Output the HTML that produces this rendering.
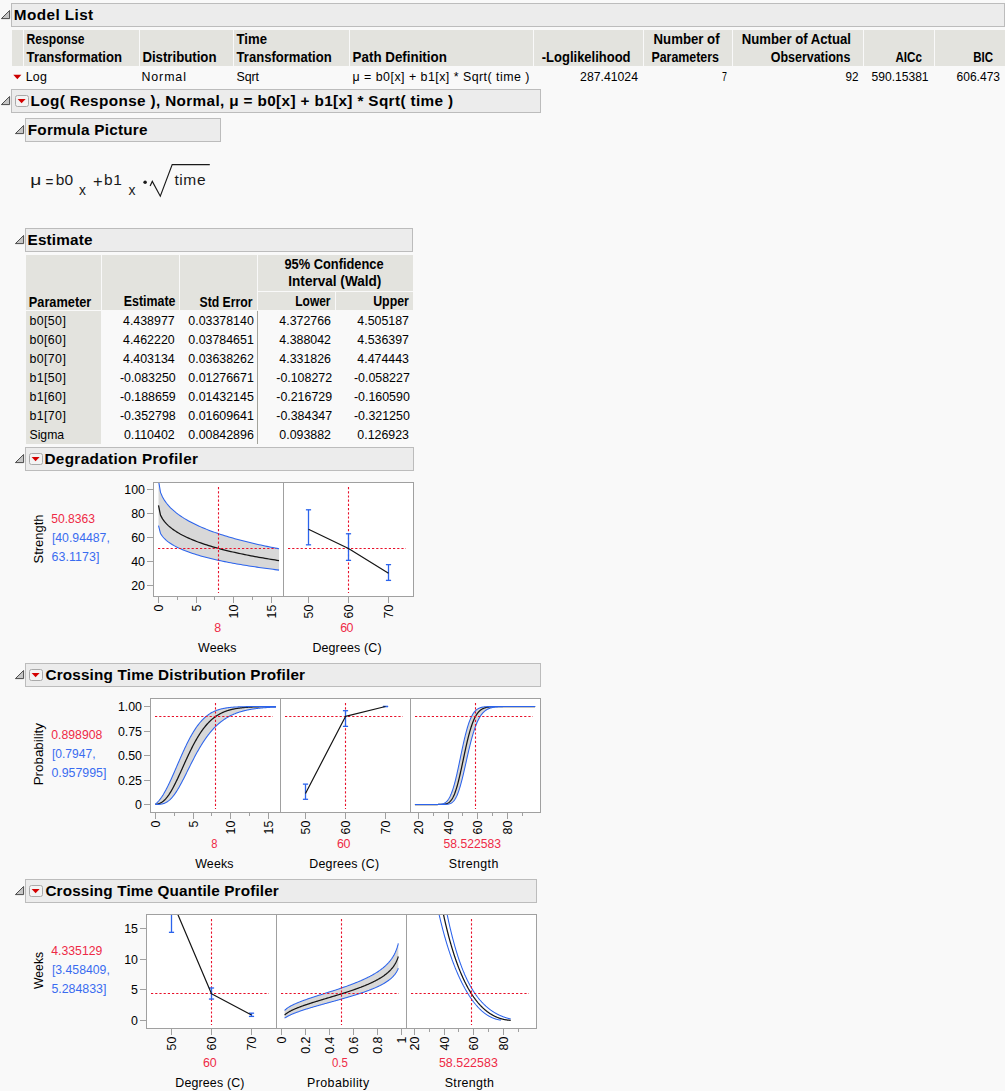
<!DOCTYPE html>
<html><head><meta charset="utf-8"><title>Degradation Model List</title>
<style>
html,body{margin:0;padding:0;background:#f9f9f9;}
body{width:1005px;height:1091px;overflow:hidden;}
svg{display:block;font-family:'Liberation Sans', Arial, sans-serif;}
</style></head><body>
<svg width="1005" height="1091" viewBox="0 0 1005 1091">
<rect x="0" y="0" width="1005" height="1091" fill="#f9f9f9"/>
<rect x="11.5" y="3.5" width="993" height="23" fill="#ececec" stroke="#bcbcbc" stroke-width="1"/>
<path d="M1.4 18.6 L9.6 10.5 L9.6 18.6 Z" fill="#c6c6c6" stroke="#4a4a4a" stroke-width="1" stroke-linejoin="round"/>
<text x="13.8" y="20.2" font-size="15.3" font-weight="bold" fill="#000" textLength="79.39" lengthAdjust="spacing">Model List</text>
<rect x="12" y="30" width="11" height="36" fill="#e3e3de"/>
<rect x="24" y="30" width="115" height="36" fill="#e3e3de"/>
<rect x="140" y="30" width="93" height="36" fill="#e3e3de"/>
<rect x="234" y="30" width="115" height="36" fill="#e3e3de"/>
<rect x="350" y="30" width="183" height="36" fill="#e3e3de"/>
<rect x="534" y="30" width="109" height="36" fill="#e3e3de"/>
<rect x="644" y="30" width="88" height="36" fill="#e3e3de"/>
<rect x="733" y="30" width="130" height="36" fill="#e3e3de"/>
<rect x="864" y="30" width="70" height="36" fill="#e3e3de"/>
<rect x="935" y="30" width="70" height="36" fill="#e3e3de"/>
<text x="26.6" y="44" font-size="14" font-weight="bold" fill="#000" textLength="57.91" lengthAdjust="spacingAndGlyphs">Response</text>
<text x="26.6" y="62" font-size="14" font-weight="bold" fill="#000" textLength="95.42" lengthAdjust="spacingAndGlyphs">Transformation</text>
<text x="142.4" y="62" font-size="14" font-weight="bold" fill="#000" textLength="74.12" lengthAdjust="spacingAndGlyphs">Distribution</text>
<text x="236.6" y="44" font-size="14" font-weight="bold" fill="#000" textLength="30.40" lengthAdjust="spacingAndGlyphs">Time</text>
<text x="236.6" y="62" font-size="14" font-weight="bold" fill="#000" textLength="95.01" lengthAdjust="spacingAndGlyphs">Transformation</text>
<text x="352.6" y="62" font-size="14" font-weight="bold" fill="#000" textLength="94.23" lengthAdjust="spacingAndGlyphs">Path Definition</text>
<text x="541.8" y="62" font-size="14" font-weight="bold" fill="#000" textLength="88.71" lengthAdjust="spacingAndGlyphs">-Loglikelihood</text>
<text x="653.6" y="44" font-size="14" font-weight="bold" fill="#000" textLength="65.98" lengthAdjust="spacingAndGlyphs">Number of</text>
<text x="651.4" y="62" font-size="14" font-weight="bold" fill="#000" textLength="67.61" lengthAdjust="spacingAndGlyphs">Parameters</text>
<text x="741.8" y="44" font-size="14" font-weight="bold" fill="#000" textLength="109.23" lengthAdjust="spacingAndGlyphs">Number of Actual</text>
<text x="770.7" y="62" font-size="14" font-weight="bold" fill="#000" textLength="79.71" lengthAdjust="spacingAndGlyphs">Observations</text>
<text x="895.5" y="62" font-size="14" font-weight="bold" fill="#000" textLength="26.42" lengthAdjust="spacingAndGlyphs">AICc</text>
<text x="973.3" y="62" font-size="14" font-weight="bold" fill="#000" textLength="19.79" lengthAdjust="spacingAndGlyphs">BIC</text>
<path d="M13.3 74.7 L21.4 74.7 L17.35 79.2 Z" fill="#cc0000"/>
<text x="25.8" y="81" font-size="12.4" fill="#000000" textLength="20.99" lengthAdjust="spacing">Log</text>
<text x="141.4" y="81" font-size="12.4" fill="#000000" textLength="44.55" lengthAdjust="spacing">Normal</text>
<text x="236.6" y="81" font-size="12.4" fill="#000000" textLength="22.44" lengthAdjust="spacing">Sqrt</text>
<text x="352.6" y="81" font-size="12.4" fill="#000000" textLength="176.83" lengthAdjust="spacing">μ = b0[x] + b1[x] * Sqrt( time )</text>
<text x="580.1" y="81" font-size="12.4" fill="#000000" textLength="57.89" lengthAdjust="spacingAndGlyphs">287.41024</text>
<text x="722.1" y="81" font-size="12.4" fill="#000000" textLength="4.92" lengthAdjust="spacingAndGlyphs">7</text>
<text x="845.5" y="81" font-size="12.4" fill="#000000" textLength="13.00" lengthAdjust="spacingAndGlyphs">92</text>
<text x="871.5" y="81" font-size="12.4" fill="#000000" textLength="57.09" lengthAdjust="spacingAndGlyphs">590.15381</text>
<text x="956.6" y="81" font-size="12.4" fill="#000000" textLength="43.39" lengthAdjust="spacingAndGlyphs">606.473</text>
<rect x="11.5" y="89.5" width="529" height="23" fill="#ececec" stroke="#bcbcbc" stroke-width="1"/>
<path d="M1.4 104.6 L9.6 96.5 L9.6 104.6 Z" fill="#c6c6c6" stroke="#4a4a4a" stroke-width="1" stroke-linejoin="round"/>
<rect x="15.5" y="95.5" width="13" height="11" rx="2" ry="2" fill="#f3f3f3" stroke="#a9a9a9" stroke-width="1"/>
<path d="M17.6 98.9 L25.6 98.9 L21.6 103.2 Z" fill="#d40000"/>
<text x="30.6" y="106.2" font-size="15.3" font-weight="bold" fill="#000" textLength="422.49" lengthAdjust="spacing">Log( Response ), Normal, μ = b0[x] + b1[x] * Sqrt( time )</text>
<rect x="25.5" y="118.5" width="195" height="23" fill="#ececec" stroke="#bcbcbc" stroke-width="1"/>
<path d="M15.4 133.6 L23.6 125.5 L23.6 133.6 Z" fill="#c6c6c6" stroke="#4a4a4a" stroke-width="1" stroke-linejoin="round"/>
<text x="27.7" y="135.2" font-size="15.3" font-weight="bold" fill="#000" textLength="119.81" lengthAdjust="spacing">Formula Picture</text>
<text x="30.36" y="184.5" font-size="15.5" fill="#1a1a1a" textLength="11.10" lengthAdjust="spacingAndGlyphs">μ</text>
<text x="45.5" y="187.4" font-size="16" fill="#1a1a1a" textLength="7.89" lengthAdjust="spacingAndGlyphs">=</text>
<text x="55.7" y="184.7" font-size="15.5" fill="#1a1a1a" textLength="17.32" lengthAdjust="spacing">b0</text>
<text x="79.0" y="194.9" font-size="15.5" fill="#1a1a1a" textLength="6.88" lengthAdjust="spacingAndGlyphs">x</text>
<text x="92.9" y="187.4" font-size="16.5" fill="#1a1a1a" textLength="9.74" lengthAdjust="spacing">+</text>
<text x="104" y="184.7" font-size="15.5" fill="#1a1a1a" textLength="17.92" lengthAdjust="spacing">b1</text>
<text x="128.6" y="194.9" font-size="15.5" fill="#1a1a1a" textLength="6.98" lengthAdjust="spacingAndGlyphs">x</text>
<circle cx="145.1" cy="182.3" r="1.75" fill="#1a1a1a"/>
<path d="M150.1 186.1 L152.3 181.4 L160.3 196.2 L172.2 164.6 L209.8 164.6" fill="none" stroke="#1a1a1a" stroke-width="1.15" stroke-linejoin="miter"/>
<text x="174.4" y="184.6" font-size="15.5" fill="#1a1a1a" textLength="31.12" lengthAdjust="spacing">time</text>
<rect x="25.5" y="228.5" width="387" height="23" fill="#ececec" stroke="#bcbcbc" stroke-width="1"/>
<path d="M15.4 243.6 L23.6 235.5 L23.6 243.6 Z" fill="#c6c6c6" stroke="#4a4a4a" stroke-width="1" stroke-linejoin="round"/>
<text x="27.6" y="245.2" font-size="15.3" font-weight="bold" fill="#000" textLength="64.81" lengthAdjust="spacing">Estimate</text>
<rect x="26" y="255" width="75" height="55" fill="#e3e3de"/>
<rect x="102" y="255" width="77" height="55" fill="#e3e3de"/>
<rect x="180" y="255" width="77" height="55" fill="#e3e3de"/>
<rect x="258" y="292" width="77" height="18" fill="#e3e3de"/>
<rect x="336" y="292" width="77" height="18" fill="#e3e3de"/>
<rect x="258" y="255" width="155" height="36" fill="#e3e3de"/>
<rect x="26" y="311" width="75" height="133" fill="#e3e3de"/>
<line x1="257.5" y1="311" x2="257.5" y2="444" stroke="#a3a39b" stroke-width="1"/>
<text x="28.8" y="306.6" font-size="14" font-weight="bold" fill="#000" textLength="62.40" lengthAdjust="spacingAndGlyphs">Parameter</text>
<text x="123.8" y="306" font-size="14" font-weight="bold" fill="#000" textLength="51.71" lengthAdjust="spacingAndGlyphs">Estimate</text>
<text x="199.5" y="306.6" font-size="14" font-weight="bold" fill="#000" textLength="53.02" lengthAdjust="spacingAndGlyphs">Std Error</text>
<text x="284.4" y="268.8" font-size="14" font-weight="bold" fill="#000" textLength="99.20" lengthAdjust="spacingAndGlyphs">95% Confidence</text>
<text x="288.3" y="286.4" font-size="14" font-weight="bold" fill="#000" textLength="93.04" lengthAdjust="spacingAndGlyphs">Interval (Wald)</text>
<text x="295.3" y="306.3" font-size="14" font-weight="bold" fill="#000" textLength="35.23" lengthAdjust="spacingAndGlyphs">Lower</text>
<text x="373.2" y="306.3" font-size="14" font-weight="bold" fill="#000" textLength="35.71" lengthAdjust="spacingAndGlyphs">Upper</text>
<text x="29.5" y="325" font-size="12.4" fill="#000000" textLength="36.34" lengthAdjust="spacing">b0[50]</text>
<text x="123.01" y="325" font-size="12.4" fill="#000000">4.438977</text>
<text x="188.33" y="325" font-size="12.4" fill="#000000">0.03378140</text>
<text x="279.31" y="325" font-size="12.4" fill="#000000">4.372766</text>
<text x="357.31" y="325" font-size="12.4" fill="#000000">4.505187</text>
<text x="29.5" y="344" font-size="12.4" fill="#000000" textLength="36.34" lengthAdjust="spacing">b0[60]</text>
<text x="123.01" y="344" font-size="12.4" fill="#000000">4.462220</text>
<text x="188.33" y="344" font-size="12.4" fill="#000000">0.03784651</text>
<text x="279.31" y="344" font-size="12.4" fill="#000000">4.388042</text>
<text x="357.31" y="344" font-size="12.4" fill="#000000">4.536397</text>
<text x="29.5" y="363" font-size="12.4" fill="#000000" textLength="36.34" lengthAdjust="spacing">b0[70]</text>
<text x="123.01" y="363" font-size="12.4" fill="#000000">4.403134</text>
<text x="188.33" y="363" font-size="12.4" fill="#000000">0.03638262</text>
<text x="279.31" y="363" font-size="12.4" fill="#000000">4.331826</text>
<text x="357.31" y="363" font-size="12.4" fill="#000000">4.474443</text>
<text x="29.5" y="382" font-size="12.4" fill="#000000" textLength="36.34" lengthAdjust="spacing">b1[50]</text>
<text x="119.88" y="382" font-size="12.4" fill="#000000">-0.083250</text>
<text x="188.33" y="382" font-size="12.4" fill="#000000">0.01276671</text>
<text x="276.28" y="382" font-size="12.4" fill="#000000">-0.108272</text>
<text x="353.98" y="382" font-size="12.4" fill="#000000">-0.058227</text>
<text x="29.5" y="401" font-size="12.4" fill="#000000" textLength="36.34" lengthAdjust="spacing">b1[60]</text>
<text x="119.88" y="401" font-size="12.4" fill="#000000">-0.188659</text>
<text x="188.33" y="401" font-size="12.4" fill="#000000">0.01432145</text>
<text x="276.28" y="401" font-size="12.4" fill="#000000">-0.216729</text>
<text x="353.98" y="401" font-size="12.4" fill="#000000">-0.160590</text>
<text x="29.5" y="420" font-size="12.4" fill="#000000" textLength="36.34" lengthAdjust="spacing">b1[70]</text>
<text x="119.88" y="420" font-size="12.4" fill="#000000">-0.352798</text>
<text x="188.33" y="420" font-size="12.4" fill="#000000">0.01609641</text>
<text x="276.28" y="420" font-size="12.4" fill="#000000">-0.384347</text>
<text x="353.98" y="420" font-size="12.4" fill="#000000">-0.321250</text>
<text x="29.5" y="439" font-size="12.4" fill="#000000" textLength="34.59" lengthAdjust="spacingAndGlyphs">Sigma</text>
<text x="123.93" y="439" font-size="12.4" fill="#000000">0.110402</text>
<text x="188.33" y="439" font-size="12.4" fill="#000000">0.00842896</text>
<text x="279.31" y="439" font-size="12.4" fill="#000000">0.093882</text>
<text x="357.31" y="439" font-size="12.4" fill="#000000">0.126923</text>
<rect x="25.5" y="447.5" width="388" height="23" fill="#ececec" stroke="#bcbcbc" stroke-width="1"/>
<path d="M15.4 462.6 L23.6 454.5 L23.6 462.6 Z" fill="#c6c6c6" stroke="#4a4a4a" stroke-width="1" stroke-linejoin="round"/>
<rect x="29.5" y="453.5" width="13" height="11" rx="2" ry="2" fill="#f3f3f3" stroke="#a9a9a9" stroke-width="1"/>
<path d="M31.6 456.9 L39.6 456.9 L35.6 461.2 Z" fill="#d40000"/>
<text x="44.4" y="464.2" font-size="15.3" font-weight="bold" fill="#000" textLength="153.55" lengthAdjust="spacing">Degradation Profiler</text>
<rect x="153.5" y="482.5" width="260" height="114" fill="#ffffff" stroke="#a0a0a0" stroke-width="1"/>
<line x1="283.5" y1="482" x2="283.5" y2="597" stroke="#a0a0a0" stroke-width="1"/>
<text transform="translate(42.9,563.4) rotate(-90)" x="0.00" y="0" font-size="13.4" fill="#000000" textLength="48.83" lengthAdjust="spacingAndGlyphs">Strength</text>
<text x="51.3" y="522.9" font-size="12.4" fill="#ee2a46" textLength="43.69" lengthAdjust="spacingAndGlyphs">50.8363</text>
<text x="51.9" y="541.75" font-size="12.4" fill="#3a6cf0" textLength="57.94" lengthAdjust="spacingAndGlyphs">[40.94487,</text>
<text x="51.5" y="560.55" font-size="12.4" fill="#3a6cf0" textLength="47.84" lengthAdjust="spacing">63.1173]</text>
<line x1="147" y1="489.5" x2="153" y2="489.5" stroke="#a0a0a0" stroke-width="1"/>
<text x="124.32" y="493.9" font-size="12.4" fill="#000000">100</text>
<line x1="147" y1="513.5" x2="153" y2="513.5" stroke="#a0a0a0" stroke-width="1"/>
<text x="131.21" y="517.9" font-size="12.4" fill="#000000">80</text>
<line x1="147" y1="537.5" x2="153" y2="537.5" stroke="#a0a0a0" stroke-width="1"/>
<text x="131.21" y="541.9" font-size="12.4" fill="#000000">60</text>
<line x1="147" y1="561.5" x2="153" y2="561.5" stroke="#a0a0a0" stroke-width="1"/>
<text x="131.21" y="565.9" font-size="12.4" fill="#000000">40</text>
<line x1="147" y1="585.5" x2="153" y2="585.5" stroke="#a0a0a0" stroke-width="1"/>
<text x="131.21" y="589.9" font-size="12.4" fill="#000000">20</text>
<clipPath id="c1"><rect x="154" y="483" width="129" height="113"/></clipPath>
<path clip-path="url(#c1)" d="M158.50 480.36 L160.51 492.34 L162.52 496.98 L164.53 500.41 L166.54 503.22 L168.54 505.64 L170.55 507.77 L172.56 509.70 L174.57 511.46 L176.58 513.09 L178.59 514.60 L180.60 516.01 L182.61 517.35 L184.61 518.61 L186.62 519.81 L188.63 520.95 L190.64 522.04 L192.65 523.08 L194.66 524.08 L196.67 525.04 L198.68 525.97 L200.68 526.86 L202.69 527.73 L204.70 528.56 L206.71 529.37 L208.72 530.15 L210.73 530.92 L212.74 531.66 L214.75 532.38 L216.76 533.08 L218.76 533.76 L220.77 534.42 L222.78 535.07 L224.79 535.71 L226.80 536.32 L228.81 536.93 L230.82 537.52 L232.83 538.10 L234.83 538.66 L236.84 539.22 L238.85 539.76 L240.86 540.29 L242.87 540.81 L244.88 541.32 L246.89 541.83 L248.90 542.32 L250.90 542.80 L252.91 543.28 L254.92 543.74 L256.93 544.20 L258.94 544.65 L260.95 545.10 L262.96 545.53 L264.97 545.96 L266.98 546.38 L268.98 546.80 L270.99 547.21 L273.00 547.61 L275.01 548.00 L277.02 548.39 L279.03 548.78 L279.03 570.11 L277.02 569.86 L275.01 569.61 L273.00 569.35 L270.99 569.09 L268.98 568.82 L266.98 568.55 L264.97 568.28 L262.96 568.00 L260.95 567.72 L258.94 567.43 L256.93 567.14 L254.92 566.84 L252.91 566.54 L250.90 566.23 L248.90 565.92 L246.89 565.60 L244.88 565.27 L242.87 564.94 L240.86 564.60 L238.85 564.26 L236.84 563.91 L234.83 563.55 L232.83 563.18 L230.82 562.81 L228.81 562.42 L226.80 562.03 L224.79 561.63 L222.78 561.22 L220.77 560.80 L218.76 560.37 L216.76 559.92 L214.75 559.47 L212.74 559.00 L210.73 558.52 L208.72 558.03 L206.71 557.52 L204.70 556.99 L202.69 556.45 L200.68 555.89 L198.68 555.31 L196.67 554.71 L194.66 554.09 L192.65 553.44 L190.64 552.76 L188.63 552.05 L186.62 551.31 L184.61 550.54 L182.61 549.72 L180.60 548.85 L178.59 547.94 L176.58 546.95 L174.57 545.90 L172.56 544.76 L170.55 543.51 L168.54 542.12 L166.54 540.55 L164.53 538.73 L162.52 536.51 L160.51 533.50 L158.50 525.72 Z" fill="#d8d8d8"/>
<path clip-path="url(#c1)" d="M158.50 480.36 L160.51 492.34 L162.52 496.98 L164.53 500.41 L166.54 503.22 L168.54 505.64 L170.55 507.77 L172.56 509.70 L174.57 511.46 L176.58 513.09 L178.59 514.60 L180.60 516.01 L182.61 517.35 L184.61 518.61 L186.62 519.81 L188.63 520.95 L190.64 522.04 L192.65 523.08 L194.66 524.08 L196.67 525.04 L198.68 525.97 L200.68 526.86 L202.69 527.73 L204.70 528.56 L206.71 529.37 L208.72 530.15 L210.73 530.92 L212.74 531.66 L214.75 532.38 L216.76 533.08 L218.76 533.76 L220.77 534.42 L222.78 535.07 L224.79 535.71 L226.80 536.32 L228.81 536.93 L230.82 537.52 L232.83 538.10 L234.83 538.66 L236.84 539.22 L238.85 539.76 L240.86 540.29 L242.87 540.81 L244.88 541.32 L246.89 541.83 L248.90 542.32 L250.90 542.80 L252.91 543.28 L254.92 543.74 L256.93 544.20 L258.94 544.65 L260.95 545.10 L262.96 545.53 L264.97 545.96 L266.98 546.38 L268.98 546.80 L270.99 547.21 L273.00 547.61 L275.01 548.00 L277.02 548.39 L279.03 548.78" fill="none" stroke="#2b63ec" stroke-width="1.05"/>
<path clip-path="url(#c1)" d="M158.50 525.72 L160.51 533.50 L162.52 536.51 L164.53 538.73 L166.54 540.55 L168.54 542.12 L170.55 543.51 L172.56 544.76 L174.57 545.90 L176.58 546.95 L178.59 547.94 L180.60 548.85 L182.61 549.72 L184.61 550.54 L186.62 551.31 L188.63 552.05 L190.64 552.76 L192.65 553.44 L194.66 554.09 L196.67 554.71 L198.68 555.31 L200.68 555.89 L202.69 556.45 L204.70 556.99 L206.71 557.52 L208.72 558.03 L210.73 558.52 L212.74 559.00 L214.75 559.47 L216.76 559.92 L218.76 560.37 L220.77 560.80 L222.78 561.22 L224.79 561.63 L226.80 562.03 L228.81 562.42 L230.82 562.81 L232.83 563.18 L234.83 563.55 L236.84 563.91 L238.85 564.26 L240.86 564.60 L242.87 564.94 L244.88 565.27 L246.89 565.60 L248.90 565.92 L250.90 566.23 L252.91 566.54 L254.92 566.84 L256.93 567.14 L258.94 567.43 L260.95 567.72 L262.96 568.00 L264.97 568.28 L266.98 568.55 L268.98 568.82 L270.99 569.09 L273.00 569.35 L275.01 569.61 L277.02 569.86 L279.03 570.11" fill="none" stroke="#2b63ec" stroke-width="1.05"/>
<path clip-path="url(#c1)" d="M158.50 505.48 L160.51 515.14 L162.52 518.87 L164.53 521.64 L166.54 523.90 L168.54 525.85 L170.55 527.57 L172.56 529.12 L174.57 530.54 L176.58 531.85 L178.59 533.06 L180.60 534.20 L182.61 535.28 L184.61 536.29 L186.62 537.26 L188.63 538.18 L190.64 539.05 L192.65 539.89 L194.66 540.70 L196.67 541.47 L198.68 542.22 L200.68 542.94 L202.69 543.64 L204.70 544.31 L206.71 544.96 L208.72 545.59 L210.73 546.21 L212.74 546.80 L214.75 547.38 L216.76 547.95 L218.76 548.50 L220.77 549.03 L222.78 549.55 L224.79 550.06 L226.80 550.56 L228.81 551.05 L230.82 551.53 L232.83 551.99 L234.83 552.45 L236.84 552.89 L238.85 553.33 L240.86 553.76 L242.87 554.18 L244.88 554.59 L246.89 554.99 L248.90 555.39 L250.90 555.78 L252.91 556.16 L254.92 556.54 L256.93 556.91 L258.94 557.27 L260.95 557.63 L262.96 557.98 L264.97 558.32 L266.98 558.66 L268.98 559.00 L270.99 559.33 L273.00 559.65 L275.01 559.97 L277.02 560.28 L279.03 560.59" fill="none" stroke="#141414" stroke-width="1.25" stroke-linejoin="round"/>
<line x1="158" y1="548.5" x2="276" y2="548.5" stroke="#e8102a" stroke-width="1.1" stroke-dasharray="2.2 2"/>
<line x1="218.5" y1="487" x2="218.5" y2="593" stroke="#e8102a" stroke-width="1.1" stroke-dasharray="2.2 2"/>
<line x1="158.5" y1="597" x2="158.5" y2="603" stroke="#a0a0a0" stroke-width="1"/>
<text transform="translate(162.9,604.6) rotate(-90)" text-anchor="end" font-size="12.4" fill="#000000">0</text>
<line x1="196.5" y1="597" x2="196.5" y2="603" stroke="#a0a0a0" stroke-width="1"/>
<text transform="translate(200.9,604.6) rotate(-90)" text-anchor="end" font-size="12.4" fill="#000000">5</text>
<line x1="233.5" y1="597" x2="233.5" y2="603" stroke="#a0a0a0" stroke-width="1"/>
<text transform="translate(237.9,604.6) rotate(-90)" text-anchor="end" font-size="12.4" fill="#000000">10</text>
<line x1="271.5" y1="597" x2="271.5" y2="603" stroke="#a0a0a0" stroke-width="1"/>
<text transform="translate(275.9,604.6) rotate(-90)" text-anchor="end" font-size="12.4" fill="#000000">15</text>
<line x1="177.5" y1="597" x2="177.5" y2="600" stroke="#a0a0a0" stroke-width="1"/>
<line x1="214.5" y1="597" x2="214.5" y2="600" stroke="#a0a0a0" stroke-width="1"/>
<line x1="252.5" y1="597" x2="252.5" y2="600" stroke="#a0a0a0" stroke-width="1"/>
<text x="214.3" y="632.0" font-size="12.4" fill="#ee2a46" textLength="6.39" lengthAdjust="spacing">8</text>
<text x="198" y="651.8" font-size="12.4" fill="#000000" textLength="38.40" lengthAdjust="spacing">Weeks</text>
<clipPath id="c2"><rect x="284" y="483" width="129" height="113"/></clipPath>
<line x1="288" y1="548.5" x2="406" y2="548.5" stroke="#e8102a" stroke-width="1.1" stroke-dasharray="2.2 2"/>
<line x1="348.5" y1="487" x2="348.5" y2="593" stroke="#e8102a" stroke-width="1.1" stroke-dasharray="2.2 2"/>
<g clip-path="url(#c2)" stroke="#2b63ec" stroke-width="1.3" fill="none">
<line x1="308.5" y1="509.79" x2="308.5" y2="544.82"/>
<line x1="305.9" y1="509.79" x2="311.1" y2="509.79"/>
<line x1="305.9" y1="544.82" x2="311.1" y2="544.82"/>
</g>
<g clip-path="url(#c2)" stroke="#2b63ec" stroke-width="1.3" fill="none">
<line x1="348.5" y1="533.76" x2="348.5" y2="560.37"/>
<line x1="345.9" y1="533.76" x2="351.1" y2="533.76"/>
<line x1="345.9" y1="560.37" x2="351.1" y2="560.37"/>
</g>
<g clip-path="url(#c2)" stroke="#2b63ec" stroke-width="1.3" fill="none">
<line x1="388.5" y1="564.62" x2="388.5" y2="580.39"/>
<line x1="385.9" y1="564.62" x2="391.1" y2="564.62"/>
<line x1="385.9" y1="580.39" x2="391.1" y2="580.39"/>
</g>
<path clip-path="url(#c2)" d="M308.50 529.19 L348.50 548.50 L388.50 573.35" fill="none" stroke="#141414" stroke-width="1.2" stroke-linejoin="round"/>
<line x1="308.5" y1="597" x2="308.5" y2="603" stroke="#a0a0a0" stroke-width="1"/>
<text transform="translate(312.9,604.6) rotate(-90)" text-anchor="end" font-size="12.4" fill="#000000">50</text>
<line x1="348.5" y1="597" x2="348.5" y2="603" stroke="#a0a0a0" stroke-width="1"/>
<text transform="translate(352.9,604.6) rotate(-90)" text-anchor="end" font-size="12.4" fill="#000000">60</text>
<line x1="388.5" y1="597" x2="388.5" y2="603" stroke="#a0a0a0" stroke-width="1"/>
<text transform="translate(392.9,604.6) rotate(-90)" text-anchor="end" font-size="12.4" fill="#000000">70</text>
<text x="340.2" y="632.0" font-size="12.4" fill="#ee2a46" textLength="13.29" lengthAdjust="spacing">60</text>
<text x="312.4" y="651.8" font-size="12.4" fill="#000000" textLength="69.13" lengthAdjust="spacing">Degrees (C)</text>
<rect x="25.5" y="663.5" width="515" height="23" fill="#ececec" stroke="#bcbcbc" stroke-width="1"/>
<path d="M15.4 678.6 L23.6 670.5 L23.6 678.6 Z" fill="#c6c6c6" stroke="#4a4a4a" stroke-width="1" stroke-linejoin="round"/>
<rect x="29.5" y="669.5" width="13" height="11" rx="2" ry="2" fill="#f3f3f3" stroke="#a9a9a9" stroke-width="1"/>
<path d="M31.6 672.9 L39.6 672.9 L35.6 677.2 Z" fill="#d40000"/>
<text x="45.4" y="680.2" font-size="15.3" font-weight="bold" fill="#000" textLength="259.65" lengthAdjust="spacing">Crossing Time Distribution Profiler</text>
<rect x="150.5" y="698.5" width="390" height="114" fill="#ffffff" stroke="#a0a0a0" stroke-width="1"/>
<line x1="280.5" y1="698" x2="280.5" y2="813" stroke="#a0a0a0" stroke-width="1"/>
<line x1="410.5" y1="698" x2="410.5" y2="813" stroke="#a0a0a0" stroke-width="1"/>
<text transform="translate(42.9,784.3) rotate(-90)" x="-1.00" y="0" font-size="13.4" fill="#000000" textLength="62.29" lengthAdjust="spacingAndGlyphs">Probability</text>
<text x="51.3" y="738.9" font-size="12.4" fill="#ee2a46" textLength="50.99" lengthAdjust="spacingAndGlyphs">0.898908</text>
<text x="51.9" y="757.75" font-size="12.4" fill="#3a6cf0" textLength="43.63" lengthAdjust="spacingAndGlyphs">[0.7947,</text>
<text x="51.5" y="776.55" font-size="12.4" fill="#3a6cf0" textLength="54.84" lengthAdjust="spacing">0.957995]</text>
<line x1="144" y1="706.5" x2="150" y2="706.5" stroke="#a0a0a0" stroke-width="1"/>
<text x="117.88" y="710.9" font-size="12.4" fill="#000000">1.00</text>
<line x1="144" y1="731.5" x2="150" y2="731.5" stroke="#a0a0a0" stroke-width="1"/>
<text x="117.88" y="735.9" font-size="12.4" fill="#000000">0.75</text>
<line x1="144" y1="755.5" x2="150" y2="755.5" stroke="#a0a0a0" stroke-width="1"/>
<text x="117.88" y="759.9" font-size="12.4" fill="#000000">0.50</text>
<line x1="144" y1="780.5" x2="150" y2="780.5" stroke="#a0a0a0" stroke-width="1"/>
<text x="117.88" y="784.9" font-size="12.4" fill="#000000">0.25</text>
<line x1="144" y1="804.5" x2="150" y2="804.5" stroke="#a0a0a0" stroke-width="1"/>
<text x="135.1" y="808.9" font-size="12.4" fill="#000000">0</text>
<clipPath id="c3"><rect x="151" y="699" width="129" height="113"/></clipPath>
<path clip-path="url(#c3)" d="M155.50 804.16 L155.57 803.99 L155.68 803.87 L155.80 803.75 L155.94 803.62 L156.09 803.48 L156.25 803.34 L156.41 803.20 L156.58 803.04 L156.76 802.88 L156.95 802.71 L157.14 802.53 L157.34 802.34 L157.54 802.14 L157.74 801.94 L157.95 801.72 L158.17 801.49 L158.39 801.26 L158.61 801.01 L158.84 800.76 L159.07 800.49 L159.30 800.21 L159.54 799.92 L159.78 799.62 L160.02 799.31 L160.27 798.99 L160.52 798.66 L160.77 798.32 L161.02 797.97 L161.28 797.60 L161.54 797.23 L161.80 796.84 L162.07 796.44 L162.34 796.03 L162.61 795.61 L162.88 795.17 L163.16 794.73 L163.43 794.27 L163.71 793.81 L164.00 793.33 L164.28 792.84 L164.57 792.34 L164.86 791.83 L165.15 791.30 L165.44 790.77 L165.73 790.22 L166.03 789.67 L166.33 789.10 L166.63 788.52 L166.93 787.94 L167.24 787.34 L167.54 786.73 L167.85 786.11 L168.16 785.48 L168.47 784.84 L168.78 784.20 L169.10 783.54 L169.41 782.87 L169.73 782.20 L170.05 781.51 L170.37 780.82 L170.70 780.12 L171.02 779.41 L171.35 778.69 L171.68 777.97 L172.01 777.23 L172.34 776.49 L172.67 775.75 L173.00 774.99 L173.34 774.23 L173.67 773.47 L174.01 772.69 L174.35 771.92 L174.69 771.13 L175.04 770.35 L175.38 769.55 L175.72 768.76 L176.07 767.95 L176.42 767.15 L176.77 766.34 L177.12 765.53 L177.47 764.71 L177.82 763.90 L178.18 763.08 L178.54 762.25 L178.89 761.43 L179.25 760.61 L179.61 759.78 L179.97 758.95 L180.33 758.13 L180.70 757.30 L181.06 756.47 L181.43 755.65 L181.79 754.82 L182.16 754.00 L182.53 753.18 L182.90 752.36 L183.27 751.54 L183.65 750.73 L184.02 749.91 L184.40 749.10 L184.77 748.30 L185.15 747.50 L185.53 746.70 L185.91 745.91 L186.29 745.12 L186.67 744.33 L187.05 743.56 L187.44 742.78 L187.82 742.02 L188.21 741.26 L188.59 740.50 L188.98 739.75 L189.37 739.01 L189.76 738.28 L190.15 737.55 L190.54 736.83 L190.94 736.12 L191.33 735.42 L191.73 734.72 L192.12 734.04 L192.52 733.36 L192.92 732.69 L193.32 732.03 L193.72 731.37 L194.12 730.73 L194.52 730.10 L194.93 729.47 L195.33 728.86 L195.73 728.26 L196.14 727.66 L196.55 727.07 L196.95 726.50 L197.36 725.93 L197.77 725.38 L198.18 724.83 L198.60 724.30 L199.01 723.77 L199.42 723.26 L199.84 722.75 L200.25 722.26 L200.67 721.77 L201.08 721.30 L201.50 720.84 L201.92 720.38 L202.34 719.94 L202.76 719.51 L203.18 719.08 L203.60 718.67 L204.03 718.26 L204.45 717.87 L204.87 717.49 L205.30 717.11 L205.73 716.75 L206.15 716.39 L206.58 716.04 L207.01 715.71 L207.44 715.38 L207.87 715.06 L208.30 714.75 L208.73 714.45 L209.17 714.15 L209.60 713.87 L210.03 713.59 L210.47 713.32 L210.91 713.06 L211.34 712.81 L211.78 712.57 L212.22 712.33 L212.66 712.10 L213.10 711.88 L213.54 711.67 L213.98 711.46 L214.42 711.26 L214.87 711.06 L215.31 710.88 L215.76 710.70 L216.20 710.52 L216.65 710.35 L217.09 710.19 L217.54 710.03 L217.99 709.88 L218.44 709.74 L218.89 709.59 L219.34 709.46 L219.79 709.33 L220.24 709.20 L220.70 709.08 L221.15 708.97 L221.60 708.86 L222.06 708.75 L222.52 708.65 L222.97 708.55 L223.43 708.45 L223.89 708.36 L224.35 708.27 L224.80 708.19 L225.26 708.11 L225.73 708.03 L226.19 707.96 L226.65 707.89 L227.11 707.82 L227.58 707.76 L228.04 707.70 L228.50 707.64 L228.97 707.58 L229.44 707.53 L229.90 707.48 L230.37 707.43 L230.84 707.38 L231.31 707.33 L231.78 707.29 L232.25 707.25 L232.72 707.21 L233.19 707.18 L233.66 707.14 L234.14 707.11 L234.61 707.07 L235.08 707.04 L235.56 707.01 L236.03 706.99 L236.51 706.96 L236.99 706.94 L237.46 706.91 L237.94 706.89 L238.42 706.87 L238.90 706.85 L239.38 706.83 L239.86 706.81 L240.34 706.79 L240.83 706.78 L241.31 706.76 L241.79 706.75 L242.27 706.73 L242.76 706.72 L243.24 706.71 L243.73 706.69 L244.22 706.68 L244.70 706.67 L245.19 706.66 L245.68 706.65 L246.17 706.64 L246.66 706.64 L247.15 706.63 L247.64 706.62 L248.13 706.61 L248.62 706.61 L249.11 706.60 L249.61 706.59 L250.10 706.59 L250.59 706.58 L251.09 706.58 L251.58 706.57 L252.08 706.57 L252.58 706.56 L253.07 706.56 L253.57 706.56 L254.07 706.55 L254.57 706.55 L255.07 706.55 L255.57 706.54 L256.07 706.54 L256.57 706.54 L257.07 706.54 L257.57 706.53 L258.08 706.53 L258.58 706.53 L259.08 706.53 L259.59 706.53 L260.09 706.52 L260.60 706.52 L261.11 706.52 L261.61 706.52 L262.12 706.52 L262.63 706.52 L263.14 706.52 L263.65 706.51 L264.16 706.51 L264.67 706.51 L265.18 706.51 L265.69 706.51 L266.20 706.51 L266.71 706.51 L267.23 706.51 L267.74 706.51 L268.25 706.51 L268.77 706.51 L269.28 706.51 L269.80 706.51 L270.31 706.51 L270.83 706.51 L271.35 706.51 L271.87 706.50 L272.38 706.50 L272.90 706.50 L273.42 706.50 L273.94 706.50 L274.46 706.50 L274.98 706.50 L275.51 706.50 L276.03 706.50 L276.03 707.09 L275.51 707.11 L274.98 707.13 L274.46 707.15 L273.94 707.17 L273.42 707.19 L272.90 707.22 L272.38 707.24 L271.87 707.27 L271.35 707.29 L270.83 707.32 L270.31 707.35 L269.80 707.38 L269.28 707.41 L268.77 707.44 L268.25 707.47 L267.74 707.50 L267.23 707.54 L266.71 707.57 L266.20 707.61 L265.69 707.64 L265.18 707.68 L264.67 707.72 L264.16 707.76 L263.65 707.80 L263.14 707.84 L262.63 707.89 L262.12 707.93 L261.61 707.98 L261.11 708.02 L260.60 708.07 L260.09 708.12 L259.59 708.18 L259.08 708.23 L258.58 708.28 L258.08 708.34 L257.57 708.40 L257.07 708.46 L256.57 708.52 L256.07 708.58 L255.57 708.65 L255.07 708.72 L254.57 708.78 L254.07 708.86 L253.57 708.93 L253.07 709.00 L252.58 709.08 L252.08 709.16 L251.58 709.24 L251.09 709.32 L250.59 709.41 L250.10 709.50 L249.61 709.59 L249.11 709.68 L248.62 709.77 L248.13 709.87 L247.64 709.97 L247.15 710.07 L246.66 710.18 L246.17 710.29 L245.68 710.40 L245.19 710.51 L244.70 710.63 L244.22 710.75 L243.73 710.87 L243.24 710.99 L242.76 711.12 L242.27 711.25 L241.79 711.39 L241.31 711.53 L240.83 711.67 L240.34 711.82 L239.86 711.96 L239.38 712.12 L238.90 712.27 L238.42 712.43 L237.94 712.60 L237.46 712.77 L236.99 712.94 L236.51 713.11 L236.03 713.29 L235.56 713.48 L235.08 713.67 L234.61 713.86 L234.14 714.06 L233.66 714.26 L233.19 714.46 L232.72 714.67 L232.25 714.89 L231.78 715.11 L231.31 715.33 L230.84 715.56 L230.37 715.80 L229.90 716.04 L229.44 716.28 L228.97 716.53 L228.50 716.79 L228.04 717.05 L227.58 717.32 L227.11 717.59 L226.65 717.87 L226.19 718.15 L225.73 718.44 L225.26 718.73 L224.80 719.03 L224.35 719.34 L223.89 719.65 L223.43 719.97 L222.97 720.30 L222.52 720.63 L222.06 720.97 L221.60 721.31 L221.15 721.66 L220.70 722.02 L220.24 722.38 L219.79 722.75 L219.34 723.13 L218.89 723.51 L218.44 723.90 L217.99 724.30 L217.54 724.70 L217.09 725.11 L216.65 725.53 L216.20 725.96 L215.76 726.39 L215.31 726.83 L214.87 727.28 L214.42 727.73 L213.98 728.19 L213.54 728.66 L213.10 729.14 L212.66 729.62 L212.22 730.11 L211.78 730.61 L211.34 731.12 L210.91 731.63 L210.47 732.15 L210.03 732.68 L209.60 733.22 L209.17 733.76 L208.73 734.31 L208.30 734.87 L207.87 735.44 L207.44 736.01 L207.01 736.59 L206.58 737.18 L206.15 737.78 L205.73 738.38 L205.30 738.99 L204.87 739.61 L204.45 740.23 L204.03 740.86 L203.60 741.50 L203.18 742.15 L202.76 742.80 L202.34 743.46 L201.92 744.13 L201.50 744.80 L201.08 745.48 L200.67 746.16 L200.25 746.86 L199.84 747.55 L199.42 748.26 L199.01 748.97 L198.60 749.68 L198.18 750.40 L197.77 751.13 L197.36 751.86 L196.95 752.60 L196.55 753.34 L196.14 754.08 L195.73 754.83 L195.33 755.59 L194.93 756.34 L194.52 757.10 L194.12 757.87 L193.72 758.64 L193.32 759.41 L192.92 760.18 L192.52 760.96 L192.12 761.73 L191.73 762.51 L191.33 763.29 L190.94 764.07 L190.54 764.86 L190.15 765.64 L189.76 766.42 L189.37 767.20 L188.98 767.98 L188.59 768.77 L188.21 769.54 L187.82 770.32 L187.44 771.10 L187.05 771.87 L186.67 772.64 L186.29 773.41 L185.91 774.17 L185.53 774.93 L185.15 775.69 L184.77 776.44 L184.40 777.19 L184.02 777.93 L183.65 778.66 L183.27 779.39 L182.90 780.11 L182.53 780.83 L182.16 781.53 L181.79 782.23 L181.43 782.92 L181.06 783.61 L180.70 784.28 L180.33 784.95 L179.97 785.60 L179.61 786.25 L179.25 786.89 L178.89 787.51 L178.54 788.13 L178.18 788.73 L177.82 789.33 L177.47 789.91 L177.12 790.48 L176.77 791.04 L176.42 791.59 L176.07 792.12 L175.72 792.64 L175.38 793.15 L175.04 793.65 L174.69 794.14 L174.35 794.61 L174.01 795.07 L173.67 795.51 L173.34 795.95 L173.00 796.37 L172.67 796.77 L172.34 797.17 L172.01 797.55 L171.68 797.92 L171.35 798.27 L171.02 798.62 L170.70 798.95 L170.37 799.26 L170.05 799.57 L169.73 799.86 L169.41 800.14 L169.10 800.41 L168.78 800.67 L168.47 800.92 L168.16 801.15 L167.85 801.37 L167.54 801.59 L167.24 801.79 L166.93 801.98 L166.63 802.16 L166.33 802.33 L166.03 802.50 L165.73 802.65 L165.44 802.79 L165.15 802.93 L164.86 803.06 L164.57 803.18 L164.28 803.29 L164.00 803.39 L163.71 803.49 L163.43 803.58 L163.16 803.67 L162.88 803.75 L162.61 803.82 L162.34 803.89 L162.07 803.95 L161.80 804.00 L161.54 804.06 L161.28 804.10 L161.02 804.15 L160.77 804.19 L160.52 804.22 L160.27 804.26 L160.02 804.29 L159.78 804.31 L159.54 804.34 L159.30 804.36 L159.07 804.38 L158.84 804.40 L158.61 804.41 L158.39 804.42 L158.17 804.44 L157.95 804.45 L157.74 804.45 L157.54 804.46 L157.34 804.47 L157.14 804.47 L156.95 804.48 L156.76 804.48 L156.58 804.49 L156.41 804.49 L156.25 804.49 L156.09 804.49 L155.94 804.50 L155.80 804.50 L155.68 804.50 L155.57 804.50 L155.50 804.50 Z" fill="#d8d8d8"/>
<path clip-path="url(#c3)" d="M155.50 804.48 L155.57 804.47 L155.68 804.45 L155.80 804.44 L155.94 804.42 L156.09 804.40 L156.25 804.38 L156.41 804.35 L156.58 804.32 L156.76 804.29 L156.95 804.26 L157.14 804.22 L157.34 804.17 L157.54 804.13 L157.74 804.08 L157.95 804.02 L158.17 803.96 L158.39 803.89 L158.61 803.82 L158.84 803.74 L159.07 803.66 L159.30 803.57 L159.54 803.47 L159.78 803.36 L160.02 803.25 L160.27 803.13 L160.52 803.01 L160.77 802.87 L161.02 802.73 L161.28 802.57 L161.54 802.41 L161.80 802.24 L162.07 802.06 L162.34 801.87 L162.61 801.67 L162.88 801.46 L163.16 801.24 L163.43 801.01 L163.71 800.77 L164.00 800.52 L164.28 800.25 L164.57 799.98 L164.86 799.69 L165.15 799.39 L165.44 799.08 L165.73 798.75 L166.03 798.42 L166.33 798.07 L166.63 797.71 L166.93 797.33 L167.24 796.95 L167.54 796.55 L167.85 796.14 L168.16 795.71 L168.47 795.27 L168.78 794.82 L169.10 794.36 L169.41 793.88 L169.73 793.40 L170.05 792.89 L170.37 792.38 L170.70 791.85 L171.02 791.31 L171.35 790.76 L171.68 790.20 L172.01 789.62 L172.34 789.03 L172.67 788.43 L173.00 787.82 L173.34 787.19 L173.67 786.56 L174.01 785.91 L174.35 785.26 L174.69 784.59 L175.04 783.91 L175.38 783.22 L175.72 782.52 L176.07 781.82 L176.42 781.10 L176.77 780.38 L177.12 779.64 L177.47 778.90 L177.82 778.15 L178.18 777.39 L178.54 776.63 L178.89 775.85 L179.25 775.08 L179.61 774.29 L179.97 773.50 L180.33 772.70 L180.70 771.90 L181.06 771.10 L181.43 770.29 L181.79 769.47 L182.16 768.66 L182.53 767.83 L182.90 767.01 L183.27 766.18 L183.65 765.36 L184.02 764.53 L184.40 763.69 L184.77 762.86 L185.15 762.03 L185.53 761.20 L185.91 760.36 L186.29 759.53 L186.67 758.70 L187.05 757.87 L187.44 757.04 L187.82 756.22 L188.21 755.39 L188.59 754.57 L188.98 753.75 L189.37 752.94 L189.76 752.13 L190.15 751.32 L190.54 750.52 L190.94 749.72 L191.33 748.92 L191.73 748.14 L192.12 747.35 L192.52 746.57 L192.92 745.80 L193.32 745.04 L193.72 744.28 L194.12 743.53 L194.52 742.78 L194.93 742.04 L195.33 741.31 L195.73 740.58 L196.14 739.87 L196.55 739.16 L196.95 738.46 L197.36 737.76 L197.77 737.08 L198.18 736.40 L198.60 735.73 L199.01 735.07 L199.42 734.42 L199.84 733.78 L200.25 733.15 L200.67 732.52 L201.08 731.91 L201.50 731.30 L201.92 730.70 L202.34 730.12 L202.76 729.54 L203.18 728.97 L203.60 728.41 L204.03 727.86 L204.45 727.32 L204.87 726.78 L205.30 726.26 L205.73 725.75 L206.15 725.24 L206.58 724.75 L207.01 724.26 L207.44 723.79 L207.87 723.32 L208.30 722.86 L208.73 722.41 L209.17 721.97 L209.60 721.54 L210.03 721.12 L210.47 720.71 L210.91 720.30 L211.34 719.91 L211.78 719.52 L212.22 719.14 L212.66 718.77 L213.10 718.41 L213.54 718.06 L213.98 717.71 L214.42 717.38 L214.87 717.05 L215.31 716.73 L215.76 716.41 L216.20 716.11 L216.65 715.81 L217.09 715.52 L217.54 715.23 L217.99 714.96 L218.44 714.69 L218.89 714.43 L219.34 714.17 L219.79 713.92 L220.24 713.68 L220.70 713.45 L221.15 713.22 L221.60 712.99 L222.06 712.78 L222.52 712.57 L222.97 712.36 L223.43 712.16 L223.89 711.97 L224.35 711.78 L224.80 711.60 L225.26 711.42 L225.73 711.25 L226.19 711.09 L226.65 710.93 L227.11 710.77 L227.58 710.62 L228.04 710.47 L228.50 710.33 L228.97 710.19 L229.44 710.06 L229.90 709.93 L230.37 709.80 L230.84 709.68 L231.31 709.56 L231.78 709.45 L232.25 709.34 L232.72 709.23 L233.19 709.13 L233.66 709.03 L234.14 708.93 L234.61 708.84 L235.08 708.75 L235.56 708.66 L236.03 708.58 L236.51 708.50 L236.99 708.42 L237.46 708.34 L237.94 708.27 L238.42 708.20 L238.90 708.13 L239.38 708.07 L239.86 708.01 L240.34 707.94 L240.83 707.89 L241.31 707.83 L241.79 707.78 L242.27 707.72 L242.76 707.67 L243.24 707.62 L243.73 707.58 L244.22 707.53 L244.70 707.49 L245.19 707.45 L245.68 707.41 L246.17 707.37 L246.66 707.33 L247.15 707.30 L247.64 707.26 L248.13 707.23 L248.62 707.20 L249.11 707.17 L249.61 707.14 L250.10 707.11 L250.59 707.09 L251.09 707.06 L251.58 707.04 L252.08 707.01 L252.58 706.99 L253.07 706.97 L253.57 706.95 L254.07 706.93 L254.57 706.91 L255.07 706.89 L255.57 706.87 L256.07 706.85 L256.57 706.84 L257.07 706.82 L257.57 706.81 L258.08 706.79 L258.58 706.78 L259.08 706.77 L259.59 706.75 L260.09 706.74 L260.60 706.73 L261.11 706.72 L261.61 706.71 L262.12 706.70 L262.63 706.69 L263.14 706.68 L263.65 706.67 L264.16 706.67 L264.67 706.66 L265.18 706.65 L265.69 706.64 L266.20 706.64 L266.71 706.63 L267.23 706.62 L267.74 706.62 L268.25 706.61 L268.77 706.61 L269.28 706.60 L269.80 706.60 L270.31 706.59 L270.83 706.59 L271.35 706.58 L271.87 706.58 L272.38 706.57 L272.90 706.57 L273.42 706.57 L273.94 706.56 L274.46 706.56 L274.98 706.56 L275.51 706.55 L276.03 706.55" fill="none" stroke="#141414" stroke-width="1.25" stroke-linejoin="round"/>
<path clip-path="url(#c3)" d="M155.50 804.16 L155.57 803.99 L155.68 803.87 L155.80 803.75 L155.94 803.62 L156.09 803.48 L156.25 803.34 L156.41 803.20 L156.58 803.04 L156.76 802.88 L156.95 802.71 L157.14 802.53 L157.34 802.34 L157.54 802.14 L157.74 801.94 L157.95 801.72 L158.17 801.49 L158.39 801.26 L158.61 801.01 L158.84 800.76 L159.07 800.49 L159.30 800.21 L159.54 799.92 L159.78 799.62 L160.02 799.31 L160.27 798.99 L160.52 798.66 L160.77 798.32 L161.02 797.97 L161.28 797.60 L161.54 797.23 L161.80 796.84 L162.07 796.44 L162.34 796.03 L162.61 795.61 L162.88 795.17 L163.16 794.73 L163.43 794.27 L163.71 793.81 L164.00 793.33 L164.28 792.84 L164.57 792.34 L164.86 791.83 L165.15 791.30 L165.44 790.77 L165.73 790.22 L166.03 789.67 L166.33 789.10 L166.63 788.52 L166.93 787.94 L167.24 787.34 L167.54 786.73 L167.85 786.11 L168.16 785.48 L168.47 784.84 L168.78 784.20 L169.10 783.54 L169.41 782.87 L169.73 782.20 L170.05 781.51 L170.37 780.82 L170.70 780.12 L171.02 779.41 L171.35 778.69 L171.68 777.97 L172.01 777.23 L172.34 776.49 L172.67 775.75 L173.00 774.99 L173.34 774.23 L173.67 773.47 L174.01 772.69 L174.35 771.92 L174.69 771.13 L175.04 770.35 L175.38 769.55 L175.72 768.76 L176.07 767.95 L176.42 767.15 L176.77 766.34 L177.12 765.53 L177.47 764.71 L177.82 763.90 L178.18 763.08 L178.54 762.25 L178.89 761.43 L179.25 760.61 L179.61 759.78 L179.97 758.95 L180.33 758.13 L180.70 757.30 L181.06 756.47 L181.43 755.65 L181.79 754.82 L182.16 754.00 L182.53 753.18 L182.90 752.36 L183.27 751.54 L183.65 750.73 L184.02 749.91 L184.40 749.10 L184.77 748.30 L185.15 747.50 L185.53 746.70 L185.91 745.91 L186.29 745.12 L186.67 744.33 L187.05 743.56 L187.44 742.78 L187.82 742.02 L188.21 741.26 L188.59 740.50 L188.98 739.75 L189.37 739.01 L189.76 738.28 L190.15 737.55 L190.54 736.83 L190.94 736.12 L191.33 735.42 L191.73 734.72 L192.12 734.04 L192.52 733.36 L192.92 732.69 L193.32 732.03 L193.72 731.37 L194.12 730.73 L194.52 730.10 L194.93 729.47 L195.33 728.86 L195.73 728.26 L196.14 727.66 L196.55 727.07 L196.95 726.50 L197.36 725.93 L197.77 725.38 L198.18 724.83 L198.60 724.30 L199.01 723.77 L199.42 723.26 L199.84 722.75 L200.25 722.26 L200.67 721.77 L201.08 721.30 L201.50 720.84 L201.92 720.38 L202.34 719.94 L202.76 719.51 L203.18 719.08 L203.60 718.67 L204.03 718.26 L204.45 717.87 L204.87 717.49 L205.30 717.11 L205.73 716.75 L206.15 716.39 L206.58 716.04 L207.01 715.71 L207.44 715.38 L207.87 715.06 L208.30 714.75 L208.73 714.45 L209.17 714.15 L209.60 713.87 L210.03 713.59 L210.47 713.32 L210.91 713.06 L211.34 712.81 L211.78 712.57 L212.22 712.33 L212.66 712.10 L213.10 711.88 L213.54 711.67 L213.98 711.46 L214.42 711.26 L214.87 711.06 L215.31 710.88 L215.76 710.70 L216.20 710.52 L216.65 710.35 L217.09 710.19 L217.54 710.03 L217.99 709.88 L218.44 709.74 L218.89 709.59 L219.34 709.46 L219.79 709.33 L220.24 709.20 L220.70 709.08 L221.15 708.97 L221.60 708.86 L222.06 708.75 L222.52 708.65 L222.97 708.55 L223.43 708.45 L223.89 708.36 L224.35 708.27 L224.80 708.19 L225.26 708.11 L225.73 708.03 L226.19 707.96 L226.65 707.89 L227.11 707.82 L227.58 707.76 L228.04 707.70 L228.50 707.64 L228.97 707.58 L229.44 707.53 L229.90 707.48 L230.37 707.43 L230.84 707.38 L231.31 707.33 L231.78 707.29 L232.25 707.25 L232.72 707.21 L233.19 707.18 L233.66 707.14 L234.14 707.11 L234.61 707.07 L235.08 707.04 L235.56 707.01 L236.03 706.99 L236.51 706.96 L236.99 706.94 L237.46 706.91 L237.94 706.89 L238.42 706.87 L238.90 706.85 L239.38 706.83 L239.86 706.81 L240.34 706.79 L240.83 706.78 L241.31 706.76 L241.79 706.75 L242.27 706.73 L242.76 706.72 L243.24 706.71 L243.73 706.69 L244.22 706.68 L244.70 706.67 L245.19 706.66 L245.68 706.65 L246.17 706.64 L246.66 706.64 L247.15 706.63 L247.64 706.62 L248.13 706.61 L248.62 706.61 L249.11 706.60 L249.61 706.59 L250.10 706.59 L250.59 706.58 L251.09 706.58 L251.58 706.57 L252.08 706.57 L252.58 706.56 L253.07 706.56 L253.57 706.56 L254.07 706.55 L254.57 706.55 L255.07 706.55 L255.57 706.54 L256.07 706.54 L256.57 706.54 L257.07 706.54 L257.57 706.53 L258.08 706.53 L258.58 706.53 L259.08 706.53 L259.59 706.53 L260.09 706.52 L260.60 706.52 L261.11 706.52 L261.61 706.52 L262.12 706.52 L262.63 706.52 L263.14 706.52 L263.65 706.51 L264.16 706.51 L264.67 706.51 L265.18 706.51 L265.69 706.51 L266.20 706.51 L266.71 706.51 L267.23 706.51 L267.74 706.51 L268.25 706.51 L268.77 706.51 L269.28 706.51 L269.80 706.51 L270.31 706.51 L270.83 706.51 L271.35 706.51 L271.87 706.50 L272.38 706.50 L272.90 706.50 L273.42 706.50 L273.94 706.50 L274.46 706.50 L274.98 706.50 L275.51 706.50 L276.03 706.50" fill="none" stroke="#2b63ec" stroke-width="1.05"/>
<path clip-path="url(#c3)" d="M155.50 804.50 L155.57 804.50 L155.68 804.50 L155.80 804.50 L155.94 804.50 L156.09 804.49 L156.25 804.49 L156.41 804.49 L156.58 804.49 L156.76 804.48 L156.95 804.48 L157.14 804.47 L157.34 804.47 L157.54 804.46 L157.74 804.45 L157.95 804.45 L158.17 804.44 L158.39 804.42 L158.61 804.41 L158.84 804.40 L159.07 804.38 L159.30 804.36 L159.54 804.34 L159.78 804.31 L160.02 804.29 L160.27 804.26 L160.52 804.22 L160.77 804.19 L161.02 804.15 L161.28 804.10 L161.54 804.06 L161.80 804.00 L162.07 803.95 L162.34 803.89 L162.61 803.82 L162.88 803.75 L163.16 803.67 L163.43 803.58 L163.71 803.49 L164.00 803.39 L164.28 803.29 L164.57 803.18 L164.86 803.06 L165.15 802.93 L165.44 802.79 L165.73 802.65 L166.03 802.50 L166.33 802.33 L166.63 802.16 L166.93 801.98 L167.24 801.79 L167.54 801.59 L167.85 801.37 L168.16 801.15 L168.47 800.92 L168.78 800.67 L169.10 800.41 L169.41 800.14 L169.73 799.86 L170.05 799.57 L170.37 799.26 L170.70 798.95 L171.02 798.62 L171.35 798.27 L171.68 797.92 L172.01 797.55 L172.34 797.17 L172.67 796.77 L173.00 796.37 L173.34 795.95 L173.67 795.51 L174.01 795.07 L174.35 794.61 L174.69 794.14 L175.04 793.65 L175.38 793.15 L175.72 792.64 L176.07 792.12 L176.42 791.59 L176.77 791.04 L177.12 790.48 L177.47 789.91 L177.82 789.33 L178.18 788.73 L178.54 788.13 L178.89 787.51 L179.25 786.89 L179.61 786.25 L179.97 785.60 L180.33 784.95 L180.70 784.28 L181.06 783.61 L181.43 782.92 L181.79 782.23 L182.16 781.53 L182.53 780.83 L182.90 780.11 L183.27 779.39 L183.65 778.66 L184.02 777.93 L184.40 777.19 L184.77 776.44 L185.15 775.69 L185.53 774.93 L185.91 774.17 L186.29 773.41 L186.67 772.64 L187.05 771.87 L187.44 771.10 L187.82 770.32 L188.21 769.54 L188.59 768.77 L188.98 767.98 L189.37 767.20 L189.76 766.42 L190.15 765.64 L190.54 764.86 L190.94 764.07 L191.33 763.29 L191.73 762.51 L192.12 761.73 L192.52 760.96 L192.92 760.18 L193.32 759.41 L193.72 758.64 L194.12 757.87 L194.52 757.10 L194.93 756.34 L195.33 755.59 L195.73 754.83 L196.14 754.08 L196.55 753.34 L196.95 752.60 L197.36 751.86 L197.77 751.13 L198.18 750.40 L198.60 749.68 L199.01 748.97 L199.42 748.26 L199.84 747.55 L200.25 746.86 L200.67 746.16 L201.08 745.48 L201.50 744.80 L201.92 744.13 L202.34 743.46 L202.76 742.80 L203.18 742.15 L203.60 741.50 L204.03 740.86 L204.45 740.23 L204.87 739.61 L205.30 738.99 L205.73 738.38 L206.15 737.78 L206.58 737.18 L207.01 736.59 L207.44 736.01 L207.87 735.44 L208.30 734.87 L208.73 734.31 L209.17 733.76 L209.60 733.22 L210.03 732.68 L210.47 732.15 L210.91 731.63 L211.34 731.12 L211.78 730.61 L212.22 730.11 L212.66 729.62 L213.10 729.14 L213.54 728.66 L213.98 728.19 L214.42 727.73 L214.87 727.28 L215.31 726.83 L215.76 726.39 L216.20 725.96 L216.65 725.53 L217.09 725.11 L217.54 724.70 L217.99 724.30 L218.44 723.90 L218.89 723.51 L219.34 723.13 L219.79 722.75 L220.24 722.38 L220.70 722.02 L221.15 721.66 L221.60 721.31 L222.06 720.97 L222.52 720.63 L222.97 720.30 L223.43 719.97 L223.89 719.65 L224.35 719.34 L224.80 719.03 L225.26 718.73 L225.73 718.44 L226.19 718.15 L226.65 717.87 L227.11 717.59 L227.58 717.32 L228.04 717.05 L228.50 716.79 L228.97 716.53 L229.44 716.28 L229.90 716.04 L230.37 715.80 L230.84 715.56 L231.31 715.33 L231.78 715.11 L232.25 714.89 L232.72 714.67 L233.19 714.46 L233.66 714.26 L234.14 714.06 L234.61 713.86 L235.08 713.67 L235.56 713.48 L236.03 713.29 L236.51 713.11 L236.99 712.94 L237.46 712.77 L237.94 712.60 L238.42 712.43 L238.90 712.27 L239.38 712.12 L239.86 711.96 L240.34 711.82 L240.83 711.67 L241.31 711.53 L241.79 711.39 L242.27 711.25 L242.76 711.12 L243.24 710.99 L243.73 710.87 L244.22 710.75 L244.70 710.63 L245.19 710.51 L245.68 710.40 L246.17 710.29 L246.66 710.18 L247.15 710.07 L247.64 709.97 L248.13 709.87 L248.62 709.77 L249.11 709.68 L249.61 709.59 L250.10 709.50 L250.59 709.41 L251.09 709.32 L251.58 709.24 L252.08 709.16 L252.58 709.08 L253.07 709.00 L253.57 708.93 L254.07 708.86 L254.57 708.78 L255.07 708.72 L255.57 708.65 L256.07 708.58 L256.57 708.52 L257.07 708.46 L257.57 708.40 L258.08 708.34 L258.58 708.28 L259.08 708.23 L259.59 708.18 L260.09 708.12 L260.60 708.07 L261.11 708.02 L261.61 707.98 L262.12 707.93 L262.63 707.89 L263.14 707.84 L263.65 707.80 L264.16 707.76 L264.67 707.72 L265.18 707.68 L265.69 707.64 L266.20 707.61 L266.71 707.57 L267.23 707.54 L267.74 707.50 L268.25 707.47 L268.77 707.44 L269.28 707.41 L269.80 707.38 L270.31 707.35 L270.83 707.32 L271.35 707.29 L271.87 707.27 L272.38 707.24 L272.90 707.22 L273.42 707.19 L273.94 707.17 L274.46 707.15 L274.98 707.13 L275.51 707.11 L276.03 707.09" fill="none" stroke="#2b63ec" stroke-width="1.05"/>
<line x1="155" y1="716.5" x2="273" y2="716.5" stroke="#e8102a" stroke-width="1.1" stroke-dasharray="2.2 2"/>
<line x1="215.5" y1="703" x2="215.5" y2="809" stroke="#e8102a" stroke-width="1.1" stroke-dasharray="2.2 2"/>
<line x1="155.5" y1="813" x2="155.5" y2="819" stroke="#a0a0a0" stroke-width="1"/>
<text transform="translate(159.9,820.6) rotate(-90)" text-anchor="end" font-size="12.4" fill="#000000">0</text>
<line x1="193.5" y1="813" x2="193.5" y2="819" stroke="#a0a0a0" stroke-width="1"/>
<text transform="translate(197.9,820.6) rotate(-90)" text-anchor="end" font-size="12.4" fill="#000000">5</text>
<line x1="230.5" y1="813" x2="230.5" y2="819" stroke="#a0a0a0" stroke-width="1"/>
<text transform="translate(234.9,820.6) rotate(-90)" text-anchor="end" font-size="12.4" fill="#000000">10</text>
<line x1="268.5" y1="813" x2="268.5" y2="819" stroke="#a0a0a0" stroke-width="1"/>
<text transform="translate(272.9,820.6) rotate(-90)" text-anchor="end" font-size="12.4" fill="#000000">15</text>
<line x1="174.5" y1="813" x2="174.5" y2="816" stroke="#a0a0a0" stroke-width="1"/>
<line x1="211.5" y1="813" x2="211.5" y2="816" stroke="#a0a0a0" stroke-width="1"/>
<line x1="249.5" y1="813" x2="249.5" y2="816" stroke="#a0a0a0" stroke-width="1"/>
<text x="211.3" y="848.0" font-size="12.4" fill="#ee2a46" textLength="6.20" lengthAdjust="spacingAndGlyphs">8</text>
<text x="195.2" y="867.8" font-size="12.4" fill="#000000" textLength="38.30" lengthAdjust="spacing">Weeks</text>
<clipPath id="c4"><rect x="281" y="699" width="129" height="113"/></clipPath>
<line x1="285" y1="716.5" x2="403" y2="716.5" stroke="#e8102a" stroke-width="1.1" stroke-dasharray="2.2 2"/>
<line x1="345.5" y1="703" x2="345.5" y2="809" stroke="#e8102a" stroke-width="1.1" stroke-dasharray="2.2 2"/>
<g clip-path="url(#c4)" stroke="#2b63ec" stroke-width="1.3" fill="none">
<line x1="305.5" y1="784.12" x2="305.5" y2="799.30"/>
<line x1="302.9" y1="784.12" x2="308.1" y2="784.12"/>
<line x1="302.9" y1="799.30" x2="308.1" y2="799.30"/>
</g>
<g clip-path="url(#c4)" stroke="#2b63ec" stroke-width="1.3" fill="none">
<line x1="345.5" y1="710.69" x2="345.5" y2="726.38"/>
<line x1="342.9" y1="710.69" x2="348.1" y2="710.69"/>
<line x1="342.9" y1="726.38" x2="348.1" y2="726.38"/>
</g>
<g clip-path="url(#c4)" stroke="#2b63ec" stroke-width="1.3" fill="none">
<line x1="385.5" y1="706.50" x2="385.5" y2="706.50"/>
<line x1="382.9" y1="706.50" x2="388.1" y2="706.50"/>
<line x1="382.9" y1="706.50" x2="388.1" y2="706.50"/>
</g>
<path clip-path="url(#c4)" d="M305.50 793.50 L345.50 716.41 L385.50 706.50" fill="none" stroke="#141414" stroke-width="1.2" stroke-linejoin="round"/>
<line x1="305.5" y1="813" x2="305.5" y2="819" stroke="#a0a0a0" stroke-width="1"/>
<text transform="translate(309.9,820.6) rotate(-90)" text-anchor="end" font-size="12.4" fill="#000000">50</text>
<line x1="345.5" y1="813" x2="345.5" y2="819" stroke="#a0a0a0" stroke-width="1"/>
<text transform="translate(349.9,820.6) rotate(-90)" text-anchor="end" font-size="12.4" fill="#000000">60</text>
<line x1="385.5" y1="813" x2="385.5" y2="819" stroke="#a0a0a0" stroke-width="1"/>
<text transform="translate(389.9,820.6) rotate(-90)" text-anchor="end" font-size="12.4" fill="#000000">70</text>
<text x="336.9" y="848.0" font-size="12.4" fill="#ee2a46" textLength="13.49" lengthAdjust="spacing">60</text>
<text x="309.3" y="867.8" font-size="12.4" fill="#000000" textLength="69.73" lengthAdjust="spacing">Degrees (C)</text>
<clipPath id="c5"><rect x="411" y="699" width="129" height="113"/></clipPath>
<path clip-path="url(#c5)" d="M414.95 804.50 L415.35 804.50 L415.75 804.50 L416.15 804.50 L416.55 804.50 L416.95 804.50 L417.35 804.50 L417.75 804.50 L418.15 804.50 L418.55 804.50 L418.95 804.50 L419.35 804.50 L419.76 804.50 L420.16 804.50 L420.56 804.50 L420.96 804.50 L421.36 804.50 L421.76 804.50 L422.16 804.50 L422.56 804.50 L422.96 804.50 L423.36 804.50 L423.76 804.50 L424.16 804.50 L424.56 804.50 L424.96 804.50 L425.36 804.50 L425.76 804.50 L426.16 804.50 L426.57 804.50 L426.97 804.50 L427.37 804.50 L427.77 804.50 L428.17 804.50 L428.57 804.50 L428.97 804.50 L429.37 804.50 L429.77 804.50 L430.17 804.50 L430.57 804.50 L430.97 804.50 L431.37 804.50 L431.77 804.50 L432.17 804.50 L432.57 804.50 L432.97 804.50 L433.37 804.50 L433.78 804.49 L434.18 804.49 L434.58 804.49 L434.98 804.49 L435.38 804.48 L435.78 804.48 L436.18 804.47 L436.58 804.47 L436.98 804.46 L437.38 804.45 L437.78 804.43 L438.18 804.42 L438.58 804.39 L438.98 804.37 L439.38 804.34 L439.78 804.30 L440.18 804.26 L440.59 804.21 L440.99 804.15 L441.39 804.08 L441.79 804.00 L442.19 803.91 L442.59 803.80 L442.99 803.67 L443.39 803.53 L443.79 803.36 L444.19 803.18 L444.59 802.97 L444.99 802.73 L445.39 802.46 L445.79 802.16 L446.19 801.83 L446.59 801.46 L446.99 801.05 L447.40 800.60 L447.80 800.11 L448.20 799.57 L448.60 798.98 L449.00 798.35 L449.40 797.65 L449.80 796.91 L450.20 796.11 L450.60 795.25 L451.00 794.33 L451.40 793.35 L451.80 792.31 L452.20 791.21 L452.60 790.05 L453.00 788.83 L453.40 787.54 L453.80 786.20 L454.21 784.80 L454.61 783.34 L455.01 781.83 L455.41 780.26 L455.81 778.64 L456.21 776.98 L456.61 775.27 L457.01 773.52 L457.41 771.73 L457.81 769.91 L458.21 768.06 L458.61 766.19 L459.01 764.30 L459.41 762.39 L459.81 760.46 L460.21 758.53 L460.61 756.60 L461.02 754.68 L461.42 752.76 L461.82 750.85 L462.22 748.95 L462.62 747.08 L463.02 745.24 L463.42 743.42 L463.82 741.63 L464.22 739.88 L464.62 738.17 L465.02 736.50 L465.42 734.87 L465.82 733.29 L466.22 731.76 L466.62 730.28 L467.02 728.85 L467.42 727.48 L467.83 726.16 L468.23 724.89 L468.63 723.68 L469.03 722.52 L469.43 721.42 L469.83 720.37 L470.23 719.38 L470.63 718.44 L471.03 717.55 L471.43 716.71 L471.83 715.92 L472.23 715.18 L472.63 714.48 L473.03 713.83 L473.43 713.23 L473.83 712.66 L474.23 712.13 L474.64 711.64 L475.04 711.19 L475.44 710.77 L475.84 710.38 L476.24 710.02 L476.64 709.69 L477.04 709.39 L477.44 709.11 L477.84 708.86 L478.24 708.63 L478.64 708.41 L479.04 708.22 L479.44 708.05 L479.84 707.89 L480.24 707.74 L480.64 707.61 L481.04 707.49 L481.45 707.38 L481.85 707.29 L482.25 707.20 L482.65 707.12 L483.05 707.05 L483.45 706.99 L483.85 706.93 L484.25 706.88 L484.65 706.84 L485.05 706.80 L485.45 706.76 L485.85 706.73 L486.25 706.70 L486.65 706.68 L487.05 706.66 L487.45 706.64 L487.85 706.62 L488.26 706.61 L488.66 706.59 L489.06 706.58 L489.46 706.57 L489.86 706.56 L490.26 706.55 L490.66 706.55 L491.06 706.54 L491.46 706.53 L491.86 706.53 L492.26 706.53 L492.66 706.52 L493.06 706.52 L493.46 706.52 L493.86 706.51 L494.26 706.51 L494.66 706.51 L495.07 706.51 L495.47 706.51 L495.87 706.51 L496.27 706.51 L496.67 706.51 L497.07 706.50 L497.47 706.50 L497.87 706.50 L498.27 706.50 L498.67 706.50 L499.07 706.50 L499.47 706.50 L499.87 706.50 L500.27 706.50 L500.67 706.50 L501.07 706.50 L501.47 706.50 L501.88 706.50 L502.28 706.50 L502.68 706.50 L503.08 706.50 L503.48 706.50 L503.88 706.50 L504.28 706.50 L504.68 706.50 L505.08 706.50 L505.48 706.50 L505.88 706.50 L506.28 706.50 L506.68 706.50 L507.08 706.50 L507.48 706.50 L507.88 706.50 L508.28 706.50 L508.69 706.50 L509.09 706.50 L509.49 706.50 L509.89 706.50 L510.29 706.50 L510.69 706.50 L511.09 706.50 L511.49 706.50 L511.89 706.50 L512.29 706.50 L512.69 706.50 L513.09 706.50 L513.49 706.50 L513.89 706.50 L514.29 706.50 L514.69 706.50 L515.09 706.50 L515.50 706.50 L515.90 706.50 L516.30 706.50 L516.70 706.50 L517.10 706.50 L517.50 706.50 L517.90 706.50 L518.30 706.50 L518.70 706.50 L519.10 706.50 L519.50 706.50 L519.90 706.50 L520.30 706.50 L520.70 706.50 L521.10 706.50 L521.50 706.50 L521.90 706.50 L522.31 706.50 L522.71 706.50 L523.11 706.50 L523.51 706.50 L523.91 706.50 L524.31 706.50 L524.71 706.50 L525.11 706.50 L525.51 706.50 L525.91 706.50 L526.31 706.50 L526.71 706.50 L527.11 706.50 L527.51 706.50 L527.91 706.50 L528.31 706.50 L528.71 706.50 L529.12 706.50 L529.52 706.50 L529.92 706.50 L530.32 706.50 L530.72 706.50 L531.12 706.50 L531.52 706.50 L531.92 706.50 L532.32 706.50 L532.72 706.50 L533.12 706.50 L533.52 706.50 L533.92 706.50 L534.32 706.50 L534.72 706.50 L535.12 706.50 L535.12 706.50 L534.72 706.50 L534.32 706.50 L533.92 706.50 L533.52 706.50 L533.12 706.50 L532.72 706.50 L532.32 706.50 L531.92 706.50 L531.52 706.50 L531.12 706.50 L530.72 706.50 L530.32 706.50 L529.92 706.50 L529.52 706.50 L529.12 706.50 L528.71 706.50 L528.31 706.50 L527.91 706.50 L527.51 706.50 L527.11 706.50 L526.71 706.50 L526.31 706.50 L525.91 706.50 L525.51 706.50 L525.11 706.50 L524.71 706.50 L524.31 706.50 L523.91 706.50 L523.51 706.50 L523.11 706.50 L522.71 706.50 L522.31 706.50 L521.90 706.50 L521.50 706.50 L521.10 706.50 L520.70 706.50 L520.30 706.50 L519.90 706.50 L519.50 706.50 L519.10 706.50 L518.70 706.50 L518.30 706.50 L517.90 706.50 L517.50 706.50 L517.10 706.50 L516.70 706.50 L516.30 706.50 L515.90 706.50 L515.50 706.50 L515.09 706.51 L514.69 706.51 L514.29 706.51 L513.89 706.51 L513.49 706.51 L513.09 706.51 L512.69 706.51 L512.29 706.51 L511.89 706.51 L511.49 706.51 L511.09 706.51 L510.69 706.52 L510.29 706.52 L509.89 706.52 L509.49 706.52 L509.09 706.52 L508.69 706.53 L508.28 706.53 L507.88 706.53 L507.48 706.53 L507.08 706.54 L506.68 706.54 L506.28 706.55 L505.88 706.55 L505.48 706.56 L505.08 706.56 L504.68 706.57 L504.28 706.58 L503.88 706.58 L503.48 706.59 L503.08 706.60 L502.68 706.61 L502.28 706.62 L501.88 706.63 L501.47 706.64 L501.07 706.66 L500.67 706.67 L500.27 706.69 L499.87 706.71 L499.47 706.73 L499.07 706.75 L498.67 706.77 L498.27 706.80 L497.87 706.83 L497.47 706.86 L497.07 706.89 L496.67 706.93 L496.27 706.96 L495.87 707.01 L495.47 707.05 L495.07 707.10 L494.66 707.16 L494.26 707.21 L493.86 707.28 L493.46 707.34 L493.06 707.42 L492.66 707.50 L492.26 707.58 L491.86 707.68 L491.46 707.78 L491.06 707.88 L490.66 708.00 L490.26 708.12 L489.86 708.26 L489.46 708.40 L489.06 708.56 L488.66 708.72 L488.26 708.90 L487.85 709.09 L487.45 709.30 L487.05 709.52 L486.65 709.75 L486.25 710.00 L485.85 710.27 L485.45 710.56 L485.05 710.86 L484.65 711.18 L484.25 711.53 L483.85 711.90 L483.45 712.29 L483.05 712.70 L482.65 713.14 L482.25 713.61 L481.85 714.10 L481.45 714.62 L481.04 715.17 L480.64 715.75 L480.24 716.37 L479.84 717.02 L479.44 717.70 L479.04 718.41 L478.64 719.17 L478.24 719.96 L477.84 720.78 L477.44 721.65 L477.04 722.56 L476.64 723.50 L476.24 724.49 L475.84 725.52 L475.44 726.59 L475.04 727.71 L474.64 728.86 L474.23 730.06 L473.83 731.30 L473.43 732.59 L473.03 733.91 L472.63 735.28 L472.23 736.69 L471.83 738.14 L471.43 739.62 L471.03 741.15 L470.63 742.70 L470.23 744.30 L469.83 745.92 L469.43 747.57 L469.03 749.25 L468.63 750.96 L468.23 752.69 L467.83 754.43 L467.42 756.19 L467.02 757.97 L466.62 759.75 L466.22 761.53 L465.82 763.32 L465.42 765.11 L465.02 766.89 L464.62 768.65 L464.22 770.41 L463.82 772.14 L463.42 773.85 L463.02 775.53 L462.62 777.19 L462.22 778.81 L461.82 780.39 L461.42 781.93 L461.02 783.42 L460.61 784.87 L460.21 786.27 L459.81 787.61 L459.41 788.90 L459.01 790.13 L458.61 791.31 L458.21 792.43 L457.81 793.48 L457.41 794.48 L457.01 795.42 L456.61 796.30 L456.21 797.12 L455.81 797.88 L455.41 798.58 L455.01 799.23 L454.61 799.83 L454.21 800.37 L453.80 800.87 L453.40 801.32 L453.00 801.73 L452.60 802.09 L452.20 802.42 L451.80 802.71 L451.40 802.97 L451.00 803.19 L450.60 803.39 L450.20 803.56 L449.80 803.71 L449.40 803.84 L449.00 803.95 L448.60 804.05 L448.20 804.13 L447.80 804.20 L447.40 804.25 L446.99 804.30 L446.59 804.34 L446.19 804.37 L445.79 804.40 L445.39 804.42 L444.99 804.44 L444.59 804.45 L444.19 804.46 L443.79 804.47 L443.39 804.48 L442.99 804.48 L442.59 804.49 L442.19 804.49 L441.79 804.49 L441.39 804.50 L440.99 804.50 L440.59 804.50 L440.18 804.50 L439.78 804.50 L439.38 804.50 L438.98 804.50 L438.58 804.50 L438.18 804.50 L437.78 804.50 L437.38 804.50 L436.98 804.50 L436.58 804.50 L436.18 804.50 L435.78 804.50 L435.38 804.50 L434.98 804.50 L434.58 804.50 L434.18 804.50 L433.78 804.50 L433.37 804.50 L432.97 804.50 L432.57 804.50 L432.17 804.50 L431.77 804.50 L431.37 804.50 L430.97 804.50 L430.57 804.50 L430.17 804.50 L429.77 804.50 L429.37 804.50 L428.97 804.50 L428.57 804.50 L428.17 804.50 L427.77 804.50 L427.37 804.50 L426.97 804.50 L426.57 804.50 L426.16 804.50 L425.76 804.50 L425.36 804.50 L424.96 804.50 L424.56 804.50 L424.16 804.50 L423.76 804.50 L423.36 804.50 L422.96 804.50 L422.56 804.50 L422.16 804.50 L421.76 804.50 L421.36 804.50 L420.96 804.50 L420.56 804.50 L420.16 804.50 L419.76 804.50 L419.35 804.50 L418.95 804.50 L418.55 804.50 L418.15 804.50 L417.75 804.50 L417.35 804.50 L416.95 804.50 L416.55 804.50 L416.15 804.50 L415.75 804.50 L415.35 804.50 L414.95 804.50 Z" fill="#d8d8d8"/>
<path clip-path="url(#c5)" d="M414.95 804.50 L415.35 804.50 L415.75 804.50 L416.15 804.50 L416.55 804.50 L416.95 804.50 L417.35 804.50 L417.75 804.50 L418.15 804.50 L418.55 804.50 L418.95 804.50 L419.35 804.50 L419.76 804.50 L420.16 804.50 L420.56 804.50 L420.96 804.50 L421.36 804.50 L421.76 804.50 L422.16 804.50 L422.56 804.50 L422.96 804.50 L423.36 804.50 L423.76 804.50 L424.16 804.50 L424.56 804.50 L424.96 804.50 L425.36 804.50 L425.76 804.50 L426.16 804.50 L426.57 804.50 L426.97 804.50 L427.37 804.50 L427.77 804.50 L428.17 804.50 L428.57 804.50 L428.97 804.50 L429.37 804.50 L429.77 804.50 L430.17 804.50 L430.57 804.50 L430.97 804.50 L431.37 804.50 L431.77 804.50 L432.17 804.50 L432.57 804.50 L432.97 804.50 L433.37 804.50 L433.78 804.50 L434.18 804.50 L434.58 804.50 L434.98 804.50 L435.38 804.50 L435.78 804.50 L436.18 804.50 L436.58 804.50 L436.98 804.50 L437.38 804.50 L437.78 804.50 L438.18 804.49 L438.58 804.49 L438.98 804.49 L439.38 804.49 L439.78 804.48 L440.18 804.47 L440.59 804.47 L440.99 804.46 L441.39 804.45 L441.79 804.43 L442.19 804.41 L442.59 804.39 L442.99 804.36 L443.39 804.33 L443.79 804.29 L444.19 804.24 L444.59 804.18 L444.99 804.12 L445.39 804.04 L445.79 803.94 L446.19 803.83 L446.59 803.71 L446.99 803.56 L447.40 803.39 L447.80 803.20 L448.20 802.98 L448.60 802.73 L449.00 802.45 L449.40 802.13 L449.80 801.78 L450.20 801.39 L450.60 800.95 L451.00 800.47 L451.40 799.94 L451.80 799.37 L452.20 798.73 L452.60 798.05 L453.00 797.30 L453.40 796.50 L453.80 795.64 L454.21 794.71 L454.61 793.73 L455.01 792.68 L455.41 791.57 L455.81 790.39 L456.21 789.16 L456.61 787.86 L457.01 786.50 L457.41 785.09 L457.81 783.61 L458.21 782.09 L458.61 780.51 L459.01 778.88 L459.41 777.21 L459.81 775.50 L460.21 773.75 L460.61 771.96 L461.02 770.15 L461.42 768.31 L461.82 766.45 L462.22 764.57 L462.62 762.69 L463.02 760.79 L463.42 758.90 L463.82 757.00 L464.22 755.11 L464.62 753.24 L465.02 751.37 L465.42 749.53 L465.82 747.71 L466.22 745.92 L466.62 744.15 L467.02 742.42 L467.42 740.73 L467.83 739.07 L468.23 737.46 L468.63 735.88 L469.03 734.36 L469.43 732.87 L469.83 731.44 L470.23 730.06 L470.63 728.72 L471.03 727.43 L471.43 726.20 L471.83 725.01 L472.23 723.88 L472.63 722.80 L473.03 721.76 L473.43 720.78 L473.83 719.84 L474.23 718.95 L474.64 718.10 L475.04 717.30 L475.44 716.55 L475.84 715.83 L476.24 715.16 L476.64 714.53 L477.04 713.93 L477.44 713.38 L477.84 712.85 L478.24 712.36 L478.64 711.91 L479.04 711.48 L479.44 711.08 L479.84 710.71 L480.24 710.37 L480.64 710.05 L481.04 709.75 L481.45 709.48 L481.85 709.22 L482.25 708.99 L482.65 708.77 L483.05 708.57 L483.45 708.39 L483.85 708.22 L484.25 708.06 L484.65 707.92 L485.05 707.79 L485.45 707.67 L485.85 707.56 L486.25 707.46 L486.65 707.37 L487.05 707.29 L487.45 707.21 L487.85 707.14 L488.26 707.08 L488.66 707.02 L489.06 706.97 L489.46 706.92 L489.86 706.88 L490.26 706.84 L490.66 706.81 L491.06 706.77 L491.46 706.75 L491.86 706.72 L492.26 706.70 L492.66 706.68 L493.06 706.66 L493.46 706.64 L493.86 706.63 L494.26 706.61 L494.66 706.60 L495.07 706.59 L495.47 706.58 L495.87 706.57 L496.27 706.56 L496.67 706.56 L497.07 706.55 L497.47 706.54 L497.87 706.54 L498.27 706.53 L498.67 706.53 L499.07 706.53 L499.47 706.52 L499.87 706.52 L500.27 706.52 L500.67 706.52 L501.07 706.51 L501.47 706.51 L501.88 706.51 L502.28 706.51 L502.68 706.51 L503.08 706.51 L503.48 706.51 L503.88 706.51 L504.28 706.51 L504.68 706.50 L505.08 706.50 L505.48 706.50 L505.88 706.50 L506.28 706.50 L506.68 706.50 L507.08 706.50 L507.48 706.50 L507.88 706.50 L508.28 706.50 L508.69 706.50 L509.09 706.50 L509.49 706.50 L509.89 706.50 L510.29 706.50 L510.69 706.50 L511.09 706.50 L511.49 706.50 L511.89 706.50 L512.29 706.50 L512.69 706.50 L513.09 706.50 L513.49 706.50 L513.89 706.50 L514.29 706.50 L514.69 706.50 L515.09 706.50 L515.50 706.50 L515.90 706.50 L516.30 706.50 L516.70 706.50 L517.10 706.50 L517.50 706.50 L517.90 706.50 L518.30 706.50 L518.70 706.50 L519.10 706.50 L519.50 706.50 L519.90 706.50 L520.30 706.50 L520.70 706.50 L521.10 706.50 L521.50 706.50 L521.90 706.50 L522.31 706.50 L522.71 706.50 L523.11 706.50 L523.51 706.50 L523.91 706.50 L524.31 706.50 L524.71 706.50 L525.11 706.50 L525.51 706.50 L525.91 706.50 L526.31 706.50 L526.71 706.50 L527.11 706.50 L527.51 706.50 L527.91 706.50 L528.31 706.50 L528.71 706.50 L529.12 706.50 L529.52 706.50 L529.92 706.50 L530.32 706.50 L530.72 706.50 L531.12 706.50 L531.52 706.50 L531.92 706.50 L532.32 706.50 L532.72 706.50 L533.12 706.50 L533.52 706.50 L533.92 706.50 L534.32 706.50 L534.72 706.50 L535.12 706.50" fill="none" stroke="#141414" stroke-width="1.25" stroke-linejoin="round"/>
<path clip-path="url(#c5)" d="M414.95 804.50 L415.35 804.50 L415.75 804.50 L416.15 804.50 L416.55 804.50 L416.95 804.50 L417.35 804.50 L417.75 804.50 L418.15 804.50 L418.55 804.50 L418.95 804.50 L419.35 804.50 L419.76 804.50 L420.16 804.50 L420.56 804.50 L420.96 804.50 L421.36 804.50 L421.76 804.50 L422.16 804.50 L422.56 804.50 L422.96 804.50 L423.36 804.50 L423.76 804.50 L424.16 804.50 L424.56 804.50 L424.96 804.50 L425.36 804.50 L425.76 804.50 L426.16 804.50 L426.57 804.50 L426.97 804.50 L427.37 804.50 L427.77 804.50 L428.17 804.50 L428.57 804.50 L428.97 804.50 L429.37 804.50 L429.77 804.50 L430.17 804.50 L430.57 804.50 L430.97 804.50 L431.37 804.50 L431.77 804.50 L432.17 804.50 L432.57 804.50 L432.97 804.50 L433.37 804.50 L433.78 804.49 L434.18 804.49 L434.58 804.49 L434.98 804.49 L435.38 804.48 L435.78 804.48 L436.18 804.47 L436.58 804.47 L436.98 804.46 L437.38 804.45 L437.78 804.43 L438.18 804.42 L438.58 804.39 L438.98 804.37 L439.38 804.34 L439.78 804.30 L440.18 804.26 L440.59 804.21 L440.99 804.15 L441.39 804.08 L441.79 804.00 L442.19 803.91 L442.59 803.80 L442.99 803.67 L443.39 803.53 L443.79 803.36 L444.19 803.18 L444.59 802.97 L444.99 802.73 L445.39 802.46 L445.79 802.16 L446.19 801.83 L446.59 801.46 L446.99 801.05 L447.40 800.60 L447.80 800.11 L448.20 799.57 L448.60 798.98 L449.00 798.35 L449.40 797.65 L449.80 796.91 L450.20 796.11 L450.60 795.25 L451.00 794.33 L451.40 793.35 L451.80 792.31 L452.20 791.21 L452.60 790.05 L453.00 788.83 L453.40 787.54 L453.80 786.20 L454.21 784.80 L454.61 783.34 L455.01 781.83 L455.41 780.26 L455.81 778.64 L456.21 776.98 L456.61 775.27 L457.01 773.52 L457.41 771.73 L457.81 769.91 L458.21 768.06 L458.61 766.19 L459.01 764.30 L459.41 762.39 L459.81 760.46 L460.21 758.53 L460.61 756.60 L461.02 754.68 L461.42 752.76 L461.82 750.85 L462.22 748.95 L462.62 747.08 L463.02 745.24 L463.42 743.42 L463.82 741.63 L464.22 739.88 L464.62 738.17 L465.02 736.50 L465.42 734.87 L465.82 733.29 L466.22 731.76 L466.62 730.28 L467.02 728.85 L467.42 727.48 L467.83 726.16 L468.23 724.89 L468.63 723.68 L469.03 722.52 L469.43 721.42 L469.83 720.37 L470.23 719.38 L470.63 718.44 L471.03 717.55 L471.43 716.71 L471.83 715.92 L472.23 715.18 L472.63 714.48 L473.03 713.83 L473.43 713.23 L473.83 712.66 L474.23 712.13 L474.64 711.64 L475.04 711.19 L475.44 710.77 L475.84 710.38 L476.24 710.02 L476.64 709.69 L477.04 709.39 L477.44 709.11 L477.84 708.86 L478.24 708.63 L478.64 708.41 L479.04 708.22 L479.44 708.05 L479.84 707.89 L480.24 707.74 L480.64 707.61 L481.04 707.49 L481.45 707.38 L481.85 707.29 L482.25 707.20 L482.65 707.12 L483.05 707.05 L483.45 706.99 L483.85 706.93 L484.25 706.88 L484.65 706.84 L485.05 706.80 L485.45 706.76 L485.85 706.73 L486.25 706.70 L486.65 706.68 L487.05 706.66 L487.45 706.64 L487.85 706.62 L488.26 706.61 L488.66 706.59 L489.06 706.58 L489.46 706.57 L489.86 706.56 L490.26 706.55 L490.66 706.55 L491.06 706.54 L491.46 706.53 L491.86 706.53 L492.26 706.53 L492.66 706.52 L493.06 706.52 L493.46 706.52 L493.86 706.51 L494.26 706.51 L494.66 706.51 L495.07 706.51 L495.47 706.51 L495.87 706.51 L496.27 706.51 L496.67 706.51 L497.07 706.50 L497.47 706.50 L497.87 706.50 L498.27 706.50 L498.67 706.50 L499.07 706.50 L499.47 706.50 L499.87 706.50 L500.27 706.50 L500.67 706.50 L501.07 706.50 L501.47 706.50 L501.88 706.50 L502.28 706.50 L502.68 706.50 L503.08 706.50 L503.48 706.50 L503.88 706.50 L504.28 706.50 L504.68 706.50 L505.08 706.50 L505.48 706.50 L505.88 706.50 L506.28 706.50 L506.68 706.50 L507.08 706.50 L507.48 706.50 L507.88 706.50 L508.28 706.50 L508.69 706.50 L509.09 706.50 L509.49 706.50 L509.89 706.50 L510.29 706.50 L510.69 706.50 L511.09 706.50 L511.49 706.50 L511.89 706.50 L512.29 706.50 L512.69 706.50 L513.09 706.50 L513.49 706.50 L513.89 706.50 L514.29 706.50 L514.69 706.50 L515.09 706.50 L515.50 706.50 L515.90 706.50 L516.30 706.50 L516.70 706.50 L517.10 706.50 L517.50 706.50 L517.90 706.50 L518.30 706.50 L518.70 706.50 L519.10 706.50 L519.50 706.50 L519.90 706.50 L520.30 706.50 L520.70 706.50 L521.10 706.50 L521.50 706.50 L521.90 706.50 L522.31 706.50 L522.71 706.50 L523.11 706.50 L523.51 706.50 L523.91 706.50 L524.31 706.50 L524.71 706.50 L525.11 706.50 L525.51 706.50 L525.91 706.50 L526.31 706.50 L526.71 706.50 L527.11 706.50 L527.51 706.50 L527.91 706.50 L528.31 706.50 L528.71 706.50 L529.12 706.50 L529.52 706.50 L529.92 706.50 L530.32 706.50 L530.72 706.50 L531.12 706.50 L531.52 706.50 L531.92 706.50 L532.32 706.50 L532.72 706.50 L533.12 706.50 L533.52 706.50 L533.92 706.50 L534.32 706.50 L534.72 706.50 L535.12 706.50" fill="none" stroke="#2b63ec" stroke-width="1.05"/>
<path clip-path="url(#c5)" d="M414.95 804.50 L415.35 804.50 L415.75 804.50 L416.15 804.50 L416.55 804.50 L416.95 804.50 L417.35 804.50 L417.75 804.50 L418.15 804.50 L418.55 804.50 L418.95 804.50 L419.35 804.50 L419.76 804.50 L420.16 804.50 L420.56 804.50 L420.96 804.50 L421.36 804.50 L421.76 804.50 L422.16 804.50 L422.56 804.50 L422.96 804.50 L423.36 804.50 L423.76 804.50 L424.16 804.50 L424.56 804.50 L424.96 804.50 L425.36 804.50 L425.76 804.50 L426.16 804.50 L426.57 804.50 L426.97 804.50 L427.37 804.50 L427.77 804.50 L428.17 804.50 L428.57 804.50 L428.97 804.50 L429.37 804.50 L429.77 804.50 L430.17 804.50 L430.57 804.50 L430.97 804.50 L431.37 804.50 L431.77 804.50 L432.17 804.50 L432.57 804.50 L432.97 804.50 L433.37 804.50 L433.78 804.50 L434.18 804.50 L434.58 804.50 L434.98 804.50 L435.38 804.50 L435.78 804.50 L436.18 804.50 L436.58 804.50 L436.98 804.50 L437.38 804.50 L437.78 804.50 L438.18 804.50 L438.58 804.50 L438.98 804.50 L439.38 804.50 L439.78 804.50 L440.18 804.50 L440.59 804.50 L440.99 804.50 L441.39 804.50 L441.79 804.49 L442.19 804.49 L442.59 804.49 L442.99 804.48 L443.39 804.48 L443.79 804.47 L444.19 804.46 L444.59 804.45 L444.99 804.44 L445.39 804.42 L445.79 804.40 L446.19 804.37 L446.59 804.34 L446.99 804.30 L447.40 804.25 L447.80 804.20 L448.20 804.13 L448.60 804.05 L449.00 803.95 L449.40 803.84 L449.80 803.71 L450.20 803.56 L450.60 803.39 L451.00 803.19 L451.40 802.97 L451.80 802.71 L452.20 802.42 L452.60 802.09 L453.00 801.73 L453.40 801.32 L453.80 800.87 L454.21 800.37 L454.61 799.83 L455.01 799.23 L455.41 798.58 L455.81 797.88 L456.21 797.12 L456.61 796.30 L457.01 795.42 L457.41 794.48 L457.81 793.48 L458.21 792.43 L458.61 791.31 L459.01 790.13 L459.41 788.90 L459.81 787.61 L460.21 786.27 L460.61 784.87 L461.02 783.42 L461.42 781.93 L461.82 780.39 L462.22 778.81 L462.62 777.19 L463.02 775.53 L463.42 773.85 L463.82 772.14 L464.22 770.41 L464.62 768.65 L465.02 766.89 L465.42 765.11 L465.82 763.32 L466.22 761.53 L466.62 759.75 L467.02 757.97 L467.42 756.19 L467.83 754.43 L468.23 752.69 L468.63 750.96 L469.03 749.25 L469.43 747.57 L469.83 745.92 L470.23 744.30 L470.63 742.70 L471.03 741.15 L471.43 739.62 L471.83 738.14 L472.23 736.69 L472.63 735.28 L473.03 733.91 L473.43 732.59 L473.83 731.30 L474.23 730.06 L474.64 728.86 L475.04 727.71 L475.44 726.59 L475.84 725.52 L476.24 724.49 L476.64 723.50 L477.04 722.56 L477.44 721.65 L477.84 720.78 L478.24 719.96 L478.64 719.17 L479.04 718.41 L479.44 717.70 L479.84 717.02 L480.24 716.37 L480.64 715.75 L481.04 715.17 L481.45 714.62 L481.85 714.10 L482.25 713.61 L482.65 713.14 L483.05 712.70 L483.45 712.29 L483.85 711.90 L484.25 711.53 L484.65 711.18 L485.05 710.86 L485.45 710.56 L485.85 710.27 L486.25 710.00 L486.65 709.75 L487.05 709.52 L487.45 709.30 L487.85 709.09 L488.26 708.90 L488.66 708.72 L489.06 708.56 L489.46 708.40 L489.86 708.26 L490.26 708.12 L490.66 708.00 L491.06 707.88 L491.46 707.78 L491.86 707.68 L492.26 707.58 L492.66 707.50 L493.06 707.42 L493.46 707.34 L493.86 707.28 L494.26 707.21 L494.66 707.16 L495.07 707.10 L495.47 707.05 L495.87 707.01 L496.27 706.96 L496.67 706.93 L497.07 706.89 L497.47 706.86 L497.87 706.83 L498.27 706.80 L498.67 706.77 L499.07 706.75 L499.47 706.73 L499.87 706.71 L500.27 706.69 L500.67 706.67 L501.07 706.66 L501.47 706.64 L501.88 706.63 L502.28 706.62 L502.68 706.61 L503.08 706.60 L503.48 706.59 L503.88 706.58 L504.28 706.58 L504.68 706.57 L505.08 706.56 L505.48 706.56 L505.88 706.55 L506.28 706.55 L506.68 706.54 L507.08 706.54 L507.48 706.53 L507.88 706.53 L508.28 706.53 L508.69 706.53 L509.09 706.52 L509.49 706.52 L509.89 706.52 L510.29 706.52 L510.69 706.52 L511.09 706.51 L511.49 706.51 L511.89 706.51 L512.29 706.51 L512.69 706.51 L513.09 706.51 L513.49 706.51 L513.89 706.51 L514.29 706.51 L514.69 706.51 L515.09 706.51 L515.50 706.50 L515.90 706.50 L516.30 706.50 L516.70 706.50 L517.10 706.50 L517.50 706.50 L517.90 706.50 L518.30 706.50 L518.70 706.50 L519.10 706.50 L519.50 706.50 L519.90 706.50 L520.30 706.50 L520.70 706.50 L521.10 706.50 L521.50 706.50 L521.90 706.50 L522.31 706.50 L522.71 706.50 L523.11 706.50 L523.51 706.50 L523.91 706.50 L524.31 706.50 L524.71 706.50 L525.11 706.50 L525.51 706.50 L525.91 706.50 L526.31 706.50 L526.71 706.50 L527.11 706.50 L527.51 706.50 L527.91 706.50 L528.31 706.50 L528.71 706.50 L529.12 706.50 L529.52 706.50 L529.92 706.50 L530.32 706.50 L530.72 706.50 L531.12 706.50 L531.52 706.50 L531.92 706.50 L532.32 706.50 L532.72 706.50 L533.12 706.50 L533.52 706.50 L533.92 706.50 L534.32 706.50 L534.72 706.50 L535.12 706.50" fill="none" stroke="#2b63ec" stroke-width="1.05"/>
<line x1="415" y1="716.5" x2="533" y2="716.5" stroke="#e8102a" stroke-width="1.1" stroke-dasharray="2.2 2"/>
<line x1="475.5" y1="703" x2="475.5" y2="809" stroke="#e8102a" stroke-width="1.1" stroke-dasharray="2.2 2"/>
<line x1="418.5" y1="813" x2="418.5" y2="819" stroke="#a0a0a0" stroke-width="1"/>
<text transform="translate(422.9,820.6) rotate(-90)" text-anchor="end" font-size="12.4" fill="#000000">20</text>
<line x1="448.5" y1="813" x2="448.5" y2="819" stroke="#a0a0a0" stroke-width="1"/>
<text transform="translate(452.9,820.6) rotate(-90)" text-anchor="end" font-size="12.4" fill="#000000">40</text>
<line x1="477.5" y1="813" x2="477.5" y2="819" stroke="#a0a0a0" stroke-width="1"/>
<text transform="translate(481.9,820.6) rotate(-90)" text-anchor="end" font-size="12.4" fill="#000000">60</text>
<line x1="507.5" y1="813" x2="507.5" y2="819" stroke="#a0a0a0" stroke-width="1"/>
<text transform="translate(511.9,820.6) rotate(-90)" text-anchor="end" font-size="12.4" fill="#000000">80</text>
<line x1="433.5" y1="813" x2="433.5" y2="816" stroke="#a0a0a0" stroke-width="1"/>
<line x1="462.5" y1="813" x2="462.5" y2="816" stroke="#a0a0a0" stroke-width="1"/>
<line x1="492.5" y1="813" x2="492.5" y2="816" stroke="#a0a0a0" stroke-width="1"/>
<line x1="522.5" y1="813" x2="522.5" y2="816" stroke="#a0a0a0" stroke-width="1"/>
<text x="443.5" y="848.0" font-size="12.4" fill="#ee2a46" textLength="57.39" lengthAdjust="spacingAndGlyphs">58.522583</text>
<text x="448.8" y="867.8" font-size="12.4" fill="#000000" textLength="49.49" lengthAdjust="spacing">Strength</text>
<rect x="25.5" y="879.5" width="511" height="23" fill="#ececec" stroke="#bcbcbc" stroke-width="1"/>
<path d="M15.4 894.6 L23.6 886.5 L23.6 894.6 Z" fill="#c6c6c6" stroke="#4a4a4a" stroke-width="1" stroke-linejoin="round"/>
<rect x="29.5" y="885.5" width="13" height="11" rx="2" ry="2" fill="#f3f3f3" stroke="#a9a9a9" stroke-width="1"/>
<path d="M31.6 888.9 L39.6 888.9 L35.6 893.2 Z" fill="#d40000"/>
<text x="45.4" y="896.2" font-size="15.3" font-weight="bold" fill="#000" textLength="233.35" lengthAdjust="spacing">Crossing Time Quantile Profiler</text>
<rect x="146.5" y="914.5" width="390" height="114" fill="#ffffff" stroke="#a0a0a0" stroke-width="1"/>
<line x1="276.5" y1="914" x2="276.5" y2="1029" stroke="#a0a0a0" stroke-width="1"/>
<line x1="406.5" y1="914" x2="406.5" y2="1029" stroke="#a0a0a0" stroke-width="1"/>
<text transform="translate(42.9,989) rotate(-90)" x="0.00" y="0" font-size="13.4" fill="#000000" textLength="37.12" lengthAdjust="spacingAndGlyphs">Weeks</text>
<text x="51.3" y="954.9" font-size="12.4" fill="#ee2a46" textLength="50.99" lengthAdjust="spacingAndGlyphs">4.335129</text>
<text x="51.9" y="973.75" font-size="12.4" fill="#3a6cf0" textLength="57.94" lengthAdjust="spacingAndGlyphs">[3.458409,</text>
<text x="51.5" y="992.55" font-size="12.4" fill="#3a6cf0" textLength="54.84" lengthAdjust="spacing">5.284833]</text>
<line x1="140" y1="928.5" x2="146" y2="928.5" stroke="#a0a0a0" stroke-width="1"/>
<text x="124.21" y="932.9" font-size="12.4" fill="#000000">15</text>
<line x1="140" y1="959.5" x2="146" y2="959.5" stroke="#a0a0a0" stroke-width="1"/>
<text x="124.21" y="963.9" font-size="12.4" fill="#000000">10</text>
<line x1="140" y1="989.5" x2="146" y2="989.5" stroke="#a0a0a0" stroke-width="1"/>
<text x="131.1" y="993.9" font-size="12.4" fill="#000000">5</text>
<line x1="140" y1="1020.5" x2="146" y2="1020.5" stroke="#a0a0a0" stroke-width="1"/>
<text x="131.1" y="1024.9" font-size="12.4" fill="#000000">0</text>
<clipPath id="c6"><rect x="147" y="915" width="129" height="113"/></clipPath>
<line x1="151" y1="993.5" x2="269" y2="993.5" stroke="#e8102a" stroke-width="1.1" stroke-dasharray="2.2 2"/>
<line x1="211.5" y1="919" x2="211.5" y2="1025" stroke="#e8102a" stroke-width="1.1" stroke-dasharray="2.2 2"/>
<g clip-path="url(#c6)" stroke="#2b63ec" stroke-width="1.3" fill="none">
<line x1="171.5" y1="852.11" x2="171.5" y2="932.33"/>
<line x1="168.9" y1="852.11" x2="174.1" y2="852.11"/>
<line x1="168.9" y1="932.33" x2="174.1" y2="932.33"/>
</g>
<g clip-path="url(#c6)" stroke="#2b63ec" stroke-width="1.3" fill="none">
<line x1="211.5" y1="987.99" x2="211.5" y2="999.06"/>
<line x1="208.9" y1="987.99" x2="214.1" y2="987.99"/>
<line x1="208.9" y1="999.06" x2="214.1" y2="999.06"/>
</g>
<g clip-path="url(#c6)" stroke="#2b63ec" stroke-width="1.3" fill="none">
<line x1="251.5" y1="1013.18" x2="251.5" y2="1016.41"/>
<line x1="248.9" y1="1013.18" x2="254.1" y2="1013.18"/>
<line x1="248.9" y1="1016.41" x2="254.1" y2="1016.41"/>
</g>
<path clip-path="url(#c6)" d="M171.50 899.54 L211.50 993.81 L251.50 1014.91" fill="none" stroke="#141414" stroke-width="1.2" stroke-linejoin="round"/>
<line x1="171.5" y1="1029" x2="171.5" y2="1035" stroke="#a0a0a0" stroke-width="1"/>
<text transform="translate(175.9,1036.6) rotate(-90)" text-anchor="end" font-size="12.4" fill="#000000">50</text>
<line x1="211.5" y1="1029" x2="211.5" y2="1035" stroke="#a0a0a0" stroke-width="1"/>
<text transform="translate(215.9,1036.6) rotate(-90)" text-anchor="end" font-size="12.4" fill="#000000">60</text>
<line x1="251.5" y1="1029" x2="251.5" y2="1035" stroke="#a0a0a0" stroke-width="1"/>
<text transform="translate(255.9,1036.6) rotate(-90)" text-anchor="end" font-size="12.4" fill="#000000">70</text>
<text x="203.1" y="1066.6" font-size="12.4" fill="#ee2a46" textLength="13.59" lengthAdjust="spacing">60</text>
<text x="175.3" y="1087.0" font-size="12.4" fill="#000000" textLength="69.13" lengthAdjust="spacing">Degrees (C)</text>
<clipPath id="c7"><rect x="277" y="915" width="129" height="113"/></clipPath>
<path clip-path="url(#c7)" d="M284.59 1010.51 L284.97 1010.11 L285.35 1009.74 L285.73 1009.40 L286.11 1009.07 L286.49 1008.76 L286.87 1008.46 L287.25 1008.18 L287.62 1007.91 L288.00 1007.65 L288.38 1007.40 L288.76 1007.15 L289.14 1006.92 L289.52 1006.69 L289.90 1006.46 L290.28 1006.24 L290.66 1006.03 L291.04 1005.82 L291.42 1005.62 L291.79 1005.42 L292.17 1005.23 L292.55 1005.04 L292.93 1004.85 L293.31 1004.66 L293.69 1004.48 L294.07 1004.30 L294.45 1004.13 L294.83 1003.95 L295.21 1003.78 L295.58 1003.61 L295.96 1003.45 L296.34 1003.28 L296.72 1003.12 L297.10 1002.96 L297.48 1002.80 L297.86 1002.65 L298.24 1002.49 L298.62 1002.34 L299.00 1002.18 L299.38 1002.03 L299.75 1001.88 L300.13 1001.74 L300.51 1001.59 L300.89 1001.44 L301.27 1001.30 L301.65 1001.16 L302.03 1001.01 L302.41 1000.87 L302.79 1000.73 L303.17 1000.59 L303.55 1000.45 L303.92 1000.32 L304.30 1000.18 L304.68 1000.04 L305.06 999.91 L305.44 999.77 L305.82 999.64 L306.20 999.51 L306.58 999.37 L306.96 999.24 L307.34 999.11 L307.71 998.98 L308.09 998.85 L308.47 998.72 L308.85 998.59 L309.23 998.46 L309.61 998.33 L309.99 998.21 L310.37 998.08 L310.75 997.95 L311.13 997.83 L311.51 997.70 L311.88 997.57 L312.26 997.45 L312.64 997.32 L313.02 997.20 L313.40 997.07 L313.78 996.95 L314.16 996.83 L314.54 996.70 L314.92 996.58 L315.30 996.46 L315.67 996.33 L316.05 996.21 L316.43 996.09 L316.81 995.97 L317.19 995.85 L317.57 995.72 L317.95 995.60 L318.33 995.48 L318.71 995.36 L319.09 995.24 L319.47 995.12 L319.84 995.00 L320.22 994.88 L320.60 994.76 L320.98 994.63 L321.36 994.51 L321.74 994.39 L322.12 994.27 L322.50 994.15 L322.88 994.03 L323.26 993.91 L323.63 993.79 L324.01 993.67 L324.39 993.55 L324.77 993.43 L325.15 993.31 L325.53 993.19 L325.91 993.07 L326.29 992.95 L326.67 992.83 L327.05 992.71 L327.43 992.59 L327.80 992.46 L328.18 992.34 L328.56 992.22 L328.94 992.10 L329.32 991.98 L329.70 991.86 L330.08 991.74 L330.46 991.62 L330.84 991.49 L331.22 991.37 L331.59 991.25 L331.97 991.13 L332.35 991.01 L332.73 990.88 L333.11 990.76 L333.49 990.64 L333.87 990.51 L334.25 990.39 L334.63 990.27 L335.01 990.14 L335.39 990.02 L335.76 989.89 L336.14 989.77 L336.52 989.64 L336.90 989.52 L337.28 989.39 L337.66 989.27 L338.04 989.14 L338.42 989.02 L338.80 988.89 L339.18 988.76 L339.55 988.64 L339.93 988.51 L340.31 988.38 L340.69 988.25 L341.07 988.12 L341.45 987.99 L341.83 987.86 L342.21 987.73 L342.59 987.60 L342.97 987.47 L343.35 987.34 L343.72 987.21 L344.10 987.08 L344.48 986.95 L344.86 986.81 L345.24 986.68 L345.62 986.55 L346.00 986.41 L346.38 986.28 L346.76 986.14 L347.14 986.01 L347.51 985.87 L347.89 985.73 L348.27 985.60 L348.65 985.46 L349.03 985.32 L349.41 985.18 L349.79 985.04 L350.17 984.90 L350.55 984.76 L350.93 984.62 L351.31 984.47 L351.68 984.33 L352.06 984.19 L352.44 984.04 L352.82 983.90 L353.20 983.75 L353.58 983.61 L353.96 983.46 L354.34 983.31 L354.72 983.16 L355.10 983.01 L355.47 982.86 L355.85 982.71 L356.23 982.56 L356.61 982.41 L356.99 982.25 L357.37 982.10 L357.75 981.94 L358.13 981.79 L358.51 981.63 L358.89 981.47 L359.27 981.31 L359.64 981.15 L360.02 980.99 L360.40 980.83 L360.78 980.66 L361.16 980.50 L361.54 980.33 L361.92 980.17 L362.30 980.00 L362.68 979.83 L363.06 979.66 L363.43 979.49 L363.81 979.32 L364.19 979.14 L364.57 978.97 L364.95 978.79 L365.33 978.61 L365.71 978.43 L366.09 978.25 L366.47 978.07 L366.85 977.89 L367.23 977.70 L367.60 977.51 L367.98 977.32 L368.36 977.13 L368.74 976.94 L369.12 976.75 L369.50 976.55 L369.88 976.35 L370.26 976.16 L370.64 975.95 L371.02 975.75 L371.39 975.55 L371.77 975.34 L372.15 975.13 L372.53 974.92 L372.91 974.71 L373.29 974.49 L373.67 974.27 L374.05 974.05 L374.43 973.83 L374.81 973.60 L375.19 973.37 L375.56 973.14 L375.94 972.91 L376.32 972.67 L376.70 972.43 L377.08 972.19 L377.46 971.94 L377.84 971.69 L378.22 971.44 L378.60 971.19 L378.98 970.93 L379.36 970.66 L379.73 970.40 L380.11 970.12 L380.49 969.85 L380.87 969.57 L381.25 969.29 L381.63 969.00 L382.01 968.70 L382.39 968.41 L382.77 968.10 L383.15 967.79 L383.52 967.48 L383.90 967.16 L384.28 966.83 L384.66 966.50 L385.04 966.16 L385.42 965.82 L385.80 965.46 L386.18 965.10 L386.56 964.74 L386.94 964.36 L387.32 963.97 L387.69 963.58 L388.07 963.17 L388.45 962.76 L388.83 962.33 L389.21 961.89 L389.59 961.44 L389.97 960.98 L390.35 960.50 L390.73 960.01 L391.11 959.50 L391.48 958.98 L391.86 958.44 L392.24 957.87 L392.62 957.29 L393.00 956.68 L393.38 956.04 L393.76 955.38 L394.14 954.69 L394.52 953.96 L394.90 953.19 L395.28 952.39 L395.65 951.53 L396.03 950.62 L396.41 949.64 L396.79 948.60 L397.17 947.47 L397.55 946.24 L397.93 944.88 L398.31 943.38 L398.31 968.31 L397.93 969.22 L397.55 970.04 L397.17 970.79 L396.79 971.49 L396.41 972.13 L396.03 972.74 L395.65 973.30 L395.28 973.84 L394.90 974.34 L394.52 974.83 L394.14 975.28 L393.76 975.72 L393.38 976.15 L393.00 976.55 L392.62 976.94 L392.24 977.31 L391.86 977.68 L391.48 978.03 L391.11 978.37 L390.73 978.70 L390.35 979.02 L389.97 979.33 L389.59 979.63 L389.21 979.93 L388.83 980.22 L388.45 980.50 L388.07 980.77 L387.69 981.04 L387.32 981.30 L386.94 981.56 L386.56 981.81 L386.18 982.06 L385.80 982.30 L385.42 982.54 L385.04 982.77 L384.66 983.00 L384.28 983.23 L383.90 983.45 L383.52 983.67 L383.15 983.88 L382.77 984.09 L382.39 984.30 L382.01 984.51 L381.63 984.71 L381.25 984.91 L380.87 985.10 L380.49 985.30 L380.11 985.49 L379.73 985.68 L379.36 985.87 L378.98 986.05 L378.60 986.23 L378.22 986.41 L377.84 986.59 L377.46 986.77 L377.08 986.94 L376.70 987.11 L376.32 987.28 L375.94 987.45 L375.56 987.62 L375.19 987.78 L374.81 987.95 L374.43 988.11 L374.05 988.27 L373.67 988.43 L373.29 988.59 L372.91 988.74 L372.53 988.90 L372.15 989.05 L371.77 989.20 L371.39 989.35 L371.02 989.50 L370.64 989.65 L370.26 989.80 L369.88 989.95 L369.50 990.09 L369.12 990.24 L368.74 990.38 L368.36 990.52 L367.98 990.66 L367.60 990.80 L367.23 990.94 L366.85 991.08 L366.47 991.22 L366.09 991.36 L365.71 991.49 L365.33 991.63 L364.95 991.76 L364.57 991.89 L364.19 992.03 L363.81 992.16 L363.43 992.29 L363.06 992.42 L362.68 992.55 L362.30 992.68 L361.92 992.81 L361.54 992.94 L361.16 993.06 L360.78 993.19 L360.40 993.31 L360.02 993.44 L359.64 993.56 L359.27 993.69 L358.89 993.81 L358.51 993.94 L358.13 994.06 L357.75 994.18 L357.37 994.30 L356.99 994.42 L356.61 994.54 L356.23 994.66 L355.85 994.78 L355.47 994.90 L355.10 995.02 L354.72 995.14 L354.34 995.25 L353.96 995.37 L353.58 995.49 L353.20 995.60 L352.82 995.72 L352.44 995.84 L352.06 995.95 L351.68 996.07 L351.31 996.18 L350.93 996.29 L350.55 996.41 L350.17 996.52 L349.79 996.63 L349.41 996.75 L349.03 996.86 L348.65 996.97 L348.27 997.08 L347.89 997.20 L347.51 997.31 L347.14 997.42 L346.76 997.53 L346.38 997.64 L346.00 997.75 L345.62 997.86 L345.24 997.97 L344.86 998.08 L344.48 998.19 L344.10 998.30 L343.72 998.41 L343.35 998.52 L342.97 998.62 L342.59 998.73 L342.21 998.84 L341.83 998.95 L341.45 999.06 L341.07 999.16 L340.69 999.27 L340.31 999.38 L339.93 999.49 L339.55 999.59 L339.18 999.70 L338.80 999.81 L338.42 999.91 L338.04 1000.02 L337.66 1000.13 L337.28 1000.23 L336.90 1000.34 L336.52 1000.44 L336.14 1000.55 L335.76 1000.66 L335.39 1000.76 L335.01 1000.87 L334.63 1000.97 L334.25 1001.08 L333.87 1001.18 L333.49 1001.29 L333.11 1001.39 L332.73 1001.50 L332.35 1001.60 L331.97 1001.71 L331.59 1001.81 L331.22 1001.92 L330.84 1002.02 L330.46 1002.13 L330.08 1002.24 L329.70 1002.34 L329.32 1002.45 L328.94 1002.55 L328.56 1002.66 L328.18 1002.76 L327.80 1002.87 L327.43 1002.97 L327.05 1003.08 L326.67 1003.18 L326.29 1003.29 L325.91 1003.39 L325.53 1003.50 L325.15 1003.60 L324.77 1003.71 L324.39 1003.81 L324.01 1003.92 L323.63 1004.03 L323.26 1004.13 L322.88 1004.24 L322.50 1004.34 L322.12 1004.45 L321.74 1004.56 L321.36 1004.66 L320.98 1004.77 L320.60 1004.88 L320.22 1004.98 L319.84 1005.09 L319.47 1005.20 L319.09 1005.30 L318.71 1005.41 L318.33 1005.52 L317.95 1005.63 L317.57 1005.74 L317.19 1005.84 L316.81 1005.95 L316.43 1006.06 L316.05 1006.17 L315.67 1006.28 L315.30 1006.39 L314.92 1006.50 L314.54 1006.61 L314.16 1006.72 L313.78 1006.83 L313.40 1006.94 L313.02 1007.05 L312.64 1007.16 L312.26 1007.28 L311.88 1007.39 L311.51 1007.50 L311.13 1007.61 L310.75 1007.73 L310.37 1007.84 L309.99 1007.95 L309.61 1008.07 L309.23 1008.18 L308.85 1008.30 L308.47 1008.41 L308.09 1008.53 L307.71 1008.65 L307.34 1008.76 L306.96 1008.88 L306.58 1009.00 L306.20 1009.12 L305.82 1009.24 L305.44 1009.36 L305.06 1009.48 L304.68 1009.60 L304.30 1009.72 L303.92 1009.84 L303.55 1009.97 L303.17 1010.09 L302.79 1010.22 L302.41 1010.34 L302.03 1010.47 L301.65 1010.59 L301.27 1010.72 L300.89 1010.85 L300.51 1010.98 L300.13 1011.11 L299.75 1011.24 L299.38 1011.37 L299.00 1011.51 L298.62 1011.64 L298.24 1011.78 L297.86 1011.91 L297.48 1012.05 L297.10 1012.19 L296.72 1012.33 L296.34 1012.47 L295.96 1012.62 L295.58 1012.76 L295.21 1012.91 L294.83 1013.06 L294.45 1013.21 L294.07 1013.36 L293.69 1013.51 L293.31 1013.67 L292.93 1013.82 L292.55 1013.98 L292.17 1014.14 L291.79 1014.31 L291.42 1014.47 L291.04 1014.64 L290.66 1014.81 L290.28 1014.99 L289.90 1015.17 L289.52 1015.35 L289.14 1015.53 L288.76 1015.72 L288.38 1015.92 L288.00 1016.12 L287.62 1016.32 L287.25 1016.53 L286.87 1016.74 L286.49 1016.96 L286.11 1017.19 L285.73 1017.42 L285.35 1017.67 L284.97 1017.92 L284.59 1018.19 Z" fill="#d8d8d8"/>
<path clip-path="url(#c7)" d="M284.59 1010.51 L284.97 1010.11 L285.35 1009.74 L285.73 1009.40 L286.11 1009.07 L286.49 1008.76 L286.87 1008.46 L287.25 1008.18 L287.62 1007.91 L288.00 1007.65 L288.38 1007.40 L288.76 1007.15 L289.14 1006.92 L289.52 1006.69 L289.90 1006.46 L290.28 1006.24 L290.66 1006.03 L291.04 1005.82 L291.42 1005.62 L291.79 1005.42 L292.17 1005.23 L292.55 1005.04 L292.93 1004.85 L293.31 1004.66 L293.69 1004.48 L294.07 1004.30 L294.45 1004.13 L294.83 1003.95 L295.21 1003.78 L295.58 1003.61 L295.96 1003.45 L296.34 1003.28 L296.72 1003.12 L297.10 1002.96 L297.48 1002.80 L297.86 1002.65 L298.24 1002.49 L298.62 1002.34 L299.00 1002.18 L299.38 1002.03 L299.75 1001.88 L300.13 1001.74 L300.51 1001.59 L300.89 1001.44 L301.27 1001.30 L301.65 1001.16 L302.03 1001.01 L302.41 1000.87 L302.79 1000.73 L303.17 1000.59 L303.55 1000.45 L303.92 1000.32 L304.30 1000.18 L304.68 1000.04 L305.06 999.91 L305.44 999.77 L305.82 999.64 L306.20 999.51 L306.58 999.37 L306.96 999.24 L307.34 999.11 L307.71 998.98 L308.09 998.85 L308.47 998.72 L308.85 998.59 L309.23 998.46 L309.61 998.33 L309.99 998.21 L310.37 998.08 L310.75 997.95 L311.13 997.83 L311.51 997.70 L311.88 997.57 L312.26 997.45 L312.64 997.32 L313.02 997.20 L313.40 997.07 L313.78 996.95 L314.16 996.83 L314.54 996.70 L314.92 996.58 L315.30 996.46 L315.67 996.33 L316.05 996.21 L316.43 996.09 L316.81 995.97 L317.19 995.85 L317.57 995.72 L317.95 995.60 L318.33 995.48 L318.71 995.36 L319.09 995.24 L319.47 995.12 L319.84 995.00 L320.22 994.88 L320.60 994.76 L320.98 994.63 L321.36 994.51 L321.74 994.39 L322.12 994.27 L322.50 994.15 L322.88 994.03 L323.26 993.91 L323.63 993.79 L324.01 993.67 L324.39 993.55 L324.77 993.43 L325.15 993.31 L325.53 993.19 L325.91 993.07 L326.29 992.95 L326.67 992.83 L327.05 992.71 L327.43 992.59 L327.80 992.46 L328.18 992.34 L328.56 992.22 L328.94 992.10 L329.32 991.98 L329.70 991.86 L330.08 991.74 L330.46 991.62 L330.84 991.49 L331.22 991.37 L331.59 991.25 L331.97 991.13 L332.35 991.01 L332.73 990.88 L333.11 990.76 L333.49 990.64 L333.87 990.51 L334.25 990.39 L334.63 990.27 L335.01 990.14 L335.39 990.02 L335.76 989.89 L336.14 989.77 L336.52 989.64 L336.90 989.52 L337.28 989.39 L337.66 989.27 L338.04 989.14 L338.42 989.02 L338.80 988.89 L339.18 988.76 L339.55 988.64 L339.93 988.51 L340.31 988.38 L340.69 988.25 L341.07 988.12 L341.45 987.99 L341.83 987.86 L342.21 987.73 L342.59 987.60 L342.97 987.47 L343.35 987.34 L343.72 987.21 L344.10 987.08 L344.48 986.95 L344.86 986.81 L345.24 986.68 L345.62 986.55 L346.00 986.41 L346.38 986.28 L346.76 986.14 L347.14 986.01 L347.51 985.87 L347.89 985.73 L348.27 985.60 L348.65 985.46 L349.03 985.32 L349.41 985.18 L349.79 985.04 L350.17 984.90 L350.55 984.76 L350.93 984.62 L351.31 984.47 L351.68 984.33 L352.06 984.19 L352.44 984.04 L352.82 983.90 L353.20 983.75 L353.58 983.61 L353.96 983.46 L354.34 983.31 L354.72 983.16 L355.10 983.01 L355.47 982.86 L355.85 982.71 L356.23 982.56 L356.61 982.41 L356.99 982.25 L357.37 982.10 L357.75 981.94 L358.13 981.79 L358.51 981.63 L358.89 981.47 L359.27 981.31 L359.64 981.15 L360.02 980.99 L360.40 980.83 L360.78 980.66 L361.16 980.50 L361.54 980.33 L361.92 980.17 L362.30 980.00 L362.68 979.83 L363.06 979.66 L363.43 979.49 L363.81 979.32 L364.19 979.14 L364.57 978.97 L364.95 978.79 L365.33 978.61 L365.71 978.43 L366.09 978.25 L366.47 978.07 L366.85 977.89 L367.23 977.70 L367.60 977.51 L367.98 977.32 L368.36 977.13 L368.74 976.94 L369.12 976.75 L369.50 976.55 L369.88 976.35 L370.26 976.16 L370.64 975.95 L371.02 975.75 L371.39 975.55 L371.77 975.34 L372.15 975.13 L372.53 974.92 L372.91 974.71 L373.29 974.49 L373.67 974.27 L374.05 974.05 L374.43 973.83 L374.81 973.60 L375.19 973.37 L375.56 973.14 L375.94 972.91 L376.32 972.67 L376.70 972.43 L377.08 972.19 L377.46 971.94 L377.84 971.69 L378.22 971.44 L378.60 971.19 L378.98 970.93 L379.36 970.66 L379.73 970.40 L380.11 970.12 L380.49 969.85 L380.87 969.57 L381.25 969.29 L381.63 969.00 L382.01 968.70 L382.39 968.41 L382.77 968.10 L383.15 967.79 L383.52 967.48 L383.90 967.16 L384.28 966.83 L384.66 966.50 L385.04 966.16 L385.42 965.82 L385.80 965.46 L386.18 965.10 L386.56 964.74 L386.94 964.36 L387.32 963.97 L387.69 963.58 L388.07 963.17 L388.45 962.76 L388.83 962.33 L389.21 961.89 L389.59 961.44 L389.97 960.98 L390.35 960.50 L390.73 960.01 L391.11 959.50 L391.48 958.98 L391.86 958.44 L392.24 957.87 L392.62 957.29 L393.00 956.68 L393.38 956.04 L393.76 955.38 L394.14 954.69 L394.52 953.96 L394.90 953.19 L395.28 952.39 L395.65 951.53 L396.03 950.62 L396.41 949.64 L396.79 948.60 L397.17 947.47 L397.55 946.24 L397.93 944.88 L398.31 943.38" fill="none" stroke="#2b63ec" stroke-width="1.05"/>
<path clip-path="url(#c7)" d="M284.59 1018.19 L284.97 1017.92 L285.35 1017.67 L285.73 1017.42 L286.11 1017.19 L286.49 1016.96 L286.87 1016.74 L287.25 1016.53 L287.62 1016.32 L288.00 1016.12 L288.38 1015.92 L288.76 1015.72 L289.14 1015.53 L289.52 1015.35 L289.90 1015.17 L290.28 1014.99 L290.66 1014.81 L291.04 1014.64 L291.42 1014.47 L291.79 1014.31 L292.17 1014.14 L292.55 1013.98 L292.93 1013.82 L293.31 1013.67 L293.69 1013.51 L294.07 1013.36 L294.45 1013.21 L294.83 1013.06 L295.21 1012.91 L295.58 1012.76 L295.96 1012.62 L296.34 1012.47 L296.72 1012.33 L297.10 1012.19 L297.48 1012.05 L297.86 1011.91 L298.24 1011.78 L298.62 1011.64 L299.00 1011.51 L299.38 1011.37 L299.75 1011.24 L300.13 1011.11 L300.51 1010.98 L300.89 1010.85 L301.27 1010.72 L301.65 1010.59 L302.03 1010.47 L302.41 1010.34 L302.79 1010.22 L303.17 1010.09 L303.55 1009.97 L303.92 1009.84 L304.30 1009.72 L304.68 1009.60 L305.06 1009.48 L305.44 1009.36 L305.82 1009.24 L306.20 1009.12 L306.58 1009.00 L306.96 1008.88 L307.34 1008.76 L307.71 1008.65 L308.09 1008.53 L308.47 1008.41 L308.85 1008.30 L309.23 1008.18 L309.61 1008.07 L309.99 1007.95 L310.37 1007.84 L310.75 1007.73 L311.13 1007.61 L311.51 1007.50 L311.88 1007.39 L312.26 1007.28 L312.64 1007.16 L313.02 1007.05 L313.40 1006.94 L313.78 1006.83 L314.16 1006.72 L314.54 1006.61 L314.92 1006.50 L315.30 1006.39 L315.67 1006.28 L316.05 1006.17 L316.43 1006.06 L316.81 1005.95 L317.19 1005.84 L317.57 1005.74 L317.95 1005.63 L318.33 1005.52 L318.71 1005.41 L319.09 1005.30 L319.47 1005.20 L319.84 1005.09 L320.22 1004.98 L320.60 1004.88 L320.98 1004.77 L321.36 1004.66 L321.74 1004.56 L322.12 1004.45 L322.50 1004.34 L322.88 1004.24 L323.26 1004.13 L323.63 1004.03 L324.01 1003.92 L324.39 1003.81 L324.77 1003.71 L325.15 1003.60 L325.53 1003.50 L325.91 1003.39 L326.29 1003.29 L326.67 1003.18 L327.05 1003.08 L327.43 1002.97 L327.80 1002.87 L328.18 1002.76 L328.56 1002.66 L328.94 1002.55 L329.32 1002.45 L329.70 1002.34 L330.08 1002.24 L330.46 1002.13 L330.84 1002.02 L331.22 1001.92 L331.59 1001.81 L331.97 1001.71 L332.35 1001.60 L332.73 1001.50 L333.11 1001.39 L333.49 1001.29 L333.87 1001.18 L334.25 1001.08 L334.63 1000.97 L335.01 1000.87 L335.39 1000.76 L335.76 1000.66 L336.14 1000.55 L336.52 1000.44 L336.90 1000.34 L337.28 1000.23 L337.66 1000.13 L338.04 1000.02 L338.42 999.91 L338.80 999.81 L339.18 999.70 L339.55 999.59 L339.93 999.49 L340.31 999.38 L340.69 999.27 L341.07 999.16 L341.45 999.06 L341.83 998.95 L342.21 998.84 L342.59 998.73 L342.97 998.62 L343.35 998.52 L343.72 998.41 L344.10 998.30 L344.48 998.19 L344.86 998.08 L345.24 997.97 L345.62 997.86 L346.00 997.75 L346.38 997.64 L346.76 997.53 L347.14 997.42 L347.51 997.31 L347.89 997.20 L348.27 997.08 L348.65 996.97 L349.03 996.86 L349.41 996.75 L349.79 996.63 L350.17 996.52 L350.55 996.41 L350.93 996.29 L351.31 996.18 L351.68 996.07 L352.06 995.95 L352.44 995.84 L352.82 995.72 L353.20 995.60 L353.58 995.49 L353.96 995.37 L354.34 995.25 L354.72 995.14 L355.10 995.02 L355.47 994.90 L355.85 994.78 L356.23 994.66 L356.61 994.54 L356.99 994.42 L357.37 994.30 L357.75 994.18 L358.13 994.06 L358.51 993.94 L358.89 993.81 L359.27 993.69 L359.64 993.56 L360.02 993.44 L360.40 993.31 L360.78 993.19 L361.16 993.06 L361.54 992.94 L361.92 992.81 L362.30 992.68 L362.68 992.55 L363.06 992.42 L363.43 992.29 L363.81 992.16 L364.19 992.03 L364.57 991.89 L364.95 991.76 L365.33 991.63 L365.71 991.49 L366.09 991.36 L366.47 991.22 L366.85 991.08 L367.23 990.94 L367.60 990.80 L367.98 990.66 L368.36 990.52 L368.74 990.38 L369.12 990.24 L369.50 990.09 L369.88 989.95 L370.26 989.80 L370.64 989.65 L371.02 989.50 L371.39 989.35 L371.77 989.20 L372.15 989.05 L372.53 988.90 L372.91 988.74 L373.29 988.59 L373.67 988.43 L374.05 988.27 L374.43 988.11 L374.81 987.95 L375.19 987.78 L375.56 987.62 L375.94 987.45 L376.32 987.28 L376.70 987.11 L377.08 986.94 L377.46 986.77 L377.84 986.59 L378.22 986.41 L378.60 986.23 L378.98 986.05 L379.36 985.87 L379.73 985.68 L380.11 985.49 L380.49 985.30 L380.87 985.10 L381.25 984.91 L381.63 984.71 L382.01 984.51 L382.39 984.30 L382.77 984.09 L383.15 983.88 L383.52 983.67 L383.90 983.45 L384.28 983.23 L384.66 983.00 L385.04 982.77 L385.42 982.54 L385.80 982.30 L386.18 982.06 L386.56 981.81 L386.94 981.56 L387.32 981.30 L387.69 981.04 L388.07 980.77 L388.45 980.50 L388.83 980.22 L389.21 979.93 L389.59 979.63 L389.97 979.33 L390.35 979.02 L390.73 978.70 L391.11 978.37 L391.48 978.03 L391.86 977.68 L392.24 977.31 L392.62 976.94 L393.00 976.55 L393.38 976.15 L393.76 975.72 L394.14 975.28 L394.52 974.83 L394.90 974.34 L395.28 973.84 L395.65 973.30 L396.03 972.74 L396.41 972.13 L396.79 971.49 L397.17 970.79 L397.55 970.04 L397.93 969.22 L398.31 968.31" fill="none" stroke="#2b63ec" stroke-width="1.05"/>
<path clip-path="url(#c7)" d="M284.59 1015.04 L284.97 1014.69 L285.35 1014.36 L285.73 1014.04 L286.11 1013.75 L286.49 1013.47 L286.87 1013.20 L287.25 1012.94 L287.62 1012.69 L288.00 1012.45 L288.38 1012.21 L288.76 1011.98 L289.14 1011.76 L289.52 1011.55 L289.90 1011.34 L290.28 1011.13 L290.66 1010.93 L291.04 1010.74 L291.42 1010.54 L291.79 1010.36 L292.17 1010.17 L292.55 1009.99 L292.93 1009.81 L293.31 1009.63 L293.69 1009.46 L294.07 1009.29 L294.45 1009.12 L294.83 1008.96 L295.21 1008.79 L295.58 1008.63 L295.96 1008.47 L296.34 1008.32 L296.72 1008.16 L297.10 1008.01 L297.48 1007.85 L297.86 1007.70 L298.24 1007.55 L298.62 1007.41 L299.00 1007.26 L299.38 1007.11 L299.75 1006.97 L300.13 1006.83 L300.51 1006.69 L300.89 1006.55 L301.27 1006.41 L301.65 1006.27 L302.03 1006.13 L302.41 1006.00 L302.79 1005.86 L303.17 1005.73 L303.55 1005.59 L303.92 1005.46 L304.30 1005.33 L304.68 1005.20 L305.06 1005.07 L305.44 1004.94 L305.82 1004.81 L306.20 1004.68 L306.58 1004.55 L306.96 1004.43 L307.34 1004.30 L307.71 1004.17 L308.09 1004.05 L308.47 1003.92 L308.85 1003.80 L309.23 1003.68 L309.61 1003.55 L309.99 1003.43 L310.37 1003.31 L310.75 1003.19 L311.13 1003.06 L311.51 1002.94 L311.88 1002.82 L312.26 1002.70 L312.64 1002.58 L313.02 1002.46 L313.40 1002.34 L313.78 1002.23 L314.16 1002.11 L314.54 1001.99 L314.92 1001.87 L315.30 1001.75 L315.67 1001.64 L316.05 1001.52 L316.43 1001.40 L316.81 1001.29 L317.19 1001.17 L317.57 1001.05 L317.95 1000.94 L318.33 1000.82 L318.71 1000.71 L319.09 1000.59 L319.47 1000.48 L319.84 1000.36 L320.22 1000.25 L320.60 1000.13 L320.98 1000.02 L321.36 999.90 L321.74 999.79 L322.12 999.67 L322.50 999.56 L322.88 999.45 L323.26 999.33 L323.63 999.22 L324.01 999.10 L324.39 998.99 L324.77 998.88 L325.15 998.76 L325.53 998.65 L325.91 998.53 L326.29 998.42 L326.67 998.31 L327.05 998.19 L327.43 998.08 L327.80 997.97 L328.18 997.85 L328.56 997.74 L328.94 997.63 L329.32 997.51 L329.70 997.40 L330.08 997.28 L330.46 997.17 L330.84 997.06 L331.22 996.94 L331.59 996.83 L331.97 996.71 L332.35 996.60 L332.73 996.49 L333.11 996.37 L333.49 996.26 L333.87 996.14 L334.25 996.03 L334.63 995.91 L335.01 995.80 L335.39 995.68 L335.76 995.57 L336.14 995.45 L336.52 995.34 L336.90 995.22 L337.28 995.10 L337.66 994.99 L338.04 994.87 L338.42 994.75 L338.80 994.64 L339.18 994.52 L339.55 994.40 L339.93 994.29 L340.31 994.17 L340.69 994.05 L341.07 993.93 L341.45 993.81 L341.83 993.69 L342.21 993.57 L342.59 993.46 L342.97 993.34 L343.35 993.22 L343.72 993.10 L344.10 992.98 L344.48 992.85 L344.86 992.73 L345.24 992.61 L345.62 992.49 L346.00 992.37 L346.38 992.25 L346.76 992.12 L347.14 992.00 L347.51 991.88 L347.89 991.75 L348.27 991.63 L348.65 991.50 L349.03 991.38 L349.41 991.25 L349.79 991.12 L350.17 991.00 L350.55 990.87 L350.93 990.74 L351.31 990.62 L351.68 990.49 L352.06 990.36 L352.44 990.23 L352.82 990.10 L353.20 989.97 L353.58 989.84 L353.96 989.70 L354.34 989.57 L354.72 989.44 L355.10 989.31 L355.47 989.17 L355.85 989.04 L356.23 988.90 L356.61 988.77 L356.99 988.63 L357.37 988.49 L357.75 988.35 L358.13 988.21 L358.51 988.08 L358.89 987.94 L359.27 987.79 L359.64 987.65 L360.02 987.51 L360.40 987.37 L360.78 987.22 L361.16 987.08 L361.54 986.93 L361.92 986.79 L362.30 986.64 L362.68 986.49 L363.06 986.34 L363.43 986.19 L363.81 986.04 L364.19 985.89 L364.57 985.73 L364.95 985.58 L365.33 985.42 L365.71 985.27 L366.09 985.11 L366.47 984.95 L366.85 984.79 L367.23 984.63 L367.60 984.47 L367.98 984.30 L368.36 984.14 L368.74 983.97 L369.12 983.80 L369.50 983.63 L369.88 983.46 L370.26 983.29 L370.64 983.12 L371.02 982.94 L371.39 982.77 L371.77 982.59 L372.15 982.41 L372.53 982.23 L372.91 982.04 L373.29 981.86 L373.67 981.67 L374.05 981.48 L374.43 981.29 L374.81 981.10 L375.19 980.91 L375.56 980.71 L375.94 980.51 L376.32 980.31 L376.70 980.11 L377.08 979.90 L377.46 979.69 L377.84 979.48 L378.22 979.27 L378.60 979.05 L378.98 978.83 L379.36 978.61 L379.73 978.38 L380.11 978.16 L380.49 977.92 L380.87 977.69 L381.25 977.45 L381.63 977.21 L382.01 976.96 L382.39 976.72 L382.77 976.46 L383.15 976.20 L383.52 975.94 L383.90 975.68 L384.28 975.40 L384.66 975.13 L385.04 974.85 L385.42 974.56 L385.80 974.27 L386.18 973.97 L386.56 973.66 L386.94 973.35 L387.32 973.03 L387.69 972.71 L388.07 972.38 L388.45 972.03 L388.83 971.68 L389.21 971.33 L389.59 970.96 L389.97 970.58 L390.35 970.19 L390.73 969.79 L391.11 969.37 L391.48 968.94 L391.86 968.50 L392.24 968.04 L392.62 967.57 L393.00 967.08 L393.38 966.56 L393.76 966.03 L394.14 965.47 L394.52 964.88 L394.90 964.27 L395.28 963.62 L395.65 962.93 L396.03 962.20 L396.41 961.42 L396.79 960.59 L397.17 959.69 L397.55 958.71 L397.93 957.64 L398.31 956.45" fill="none" stroke="#141414" stroke-width="1.25" stroke-linejoin="round"/>
<line x1="281" y1="993.5" x2="399" y2="993.5" stroke="#e8102a" stroke-width="1.1" stroke-dasharray="2.2 2"/>
<line x1="341.5" y1="919" x2="341.5" y2="1025" stroke="#e8102a" stroke-width="1.1" stroke-dasharray="2.2 2"/>
<line x1="281.5" y1="1029" x2="281.5" y2="1035" stroke="#a0a0a0" stroke-width="1"/>
<text transform="translate(285.9,1036.6) rotate(-90)" text-anchor="end" font-size="12.4" fill="#000000">0</text>
<line x1="305.5" y1="1029" x2="305.5" y2="1035" stroke="#a0a0a0" stroke-width="1"/>
<text transform="translate(309.9,1036.6) rotate(-90)" text-anchor="end" font-size="12.4" fill="#000000">0.2</text>
<line x1="329.5" y1="1029" x2="329.5" y2="1035" stroke="#a0a0a0" stroke-width="1"/>
<text transform="translate(333.9,1036.6) rotate(-90)" text-anchor="end" font-size="12.4" fill="#000000">0.4</text>
<line x1="353.5" y1="1029" x2="353.5" y2="1035" stroke="#a0a0a0" stroke-width="1"/>
<text transform="translate(357.9,1036.6) rotate(-90)" text-anchor="end" font-size="12.4" fill="#000000">0.6</text>
<line x1="377.5" y1="1029" x2="377.5" y2="1035" stroke="#a0a0a0" stroke-width="1"/>
<text transform="translate(381.9,1036.6) rotate(-90)" text-anchor="end" font-size="12.4" fill="#000000">0.8</text>
<line x1="401.5" y1="1029" x2="401.5" y2="1035" stroke="#a0a0a0" stroke-width="1"/>
<text transform="translate(405.9,1036.6) rotate(-90)" text-anchor="end" font-size="12.4" fill="#000000">1</text>
<text x="332.0" y="1066.6" font-size="12.4" fill="#ee2a46" textLength="15.90" lengthAdjust="spacingAndGlyphs">0.5</text>
<text x="307" y="1087.0" font-size="12.4" fill="#000000" textLength="62.20" lengthAdjust="spacing">Probability</text>
<clipPath id="c8"><rect x="407" y="915" width="129" height="113"/></clipPath>
<path clip-path="url(#c8)" d="M429.30 786.47 L429.50 788.55 L429.71 790.62 L429.91 792.66 L430.11 794.69 L430.32 796.70 L430.52 798.69 L430.72 800.66 L430.93 802.61 L431.13 804.55 L431.33 806.47 L431.54 808.37 L431.74 810.25 L431.95 812.12 L432.15 813.97 L432.35 815.81 L432.56 817.63 L432.76 819.43 L432.96 821.22 L433.17 822.99 L433.37 824.74 L433.57 826.48 L433.78 828.21 L433.98 829.92 L434.18 831.61 L434.39 833.29 L434.59 834.96 L434.79 836.61 L435.00 838.24 L435.20 839.87 L435.40 841.47 L435.61 843.07 L435.81 844.65 L436.02 846.22 L436.22 847.77 L436.42 849.31 L436.63 850.83 L436.83 852.35 L437.03 853.85 L437.24 855.34 L437.44 856.81 L437.64 858.27 L437.85 859.72 L438.05 861.16 L438.25 862.58 L438.46 864.00 L438.66 865.40 L438.86 866.79 L439.07 868.16 L439.27 869.53 L439.48 870.88 L439.68 872.23 L439.88 873.56 L440.09 874.88 L440.29 876.18 L440.49 877.48 L440.70 878.77 L440.90 880.04 L441.10 881.31 L441.31 882.56 L441.51 883.81 L441.71 885.04 L441.92 886.26 L442.12 887.48 L442.32 888.68 L442.53 889.87 L442.73 891.05 L442.93 892.23 L443.14 893.39 L443.34 894.54 L443.55 895.69 L443.75 896.82 L443.95 897.94 L444.16 899.06 L444.36 900.17 L444.56 901.26 L444.77 902.35 L444.97 903.43 L445.17 904.50 L445.38 905.56 L445.58 906.61 L445.78 907.65 L445.99 908.68 L446.19 909.71 L446.39 910.73 L446.60 911.74 L446.80 912.74 L447.00 913.73 L447.21 914.71 L447.41 915.69 L447.62 916.65 L447.82 917.61 L448.02 918.56 L448.23 919.50 L448.43 920.44 L448.63 921.37 L448.84 922.29 L449.04 923.20 L449.24 924.10 L449.45 925.00 L449.65 925.89 L449.85 926.77 L450.06 927.65 L450.26 928.51 L450.46 929.37 L450.67 930.22 L450.87 931.07 L451.07 931.91 L451.28 932.74 L451.48 933.56 L451.69 934.38 L451.89 935.19 L452.09 936.00 L452.30 936.79 L452.50 937.58 L452.70 938.37 L452.91 939.14 L453.11 939.92 L453.31 940.68 L453.52 941.44 L453.72 942.19 L453.92 942.93 L454.13 943.67 L454.33 944.40 L454.53 945.13 L454.74 945.85 L454.94 946.56 L455.14 947.27 L455.35 947.97 L455.55 948.67 L455.75 949.36 L455.96 950.04 L456.16 950.72 L456.37 951.39 L456.57 952.06 L456.77 952.72 L456.98 953.38 L457.18 954.02 L457.38 954.67 L457.59 955.31 L457.79 955.94 L457.99 956.57 L458.20 957.19 L458.40 957.81 L458.60 958.42 L458.81 959.02 L459.01 959.63 L459.21 960.22 L459.42 960.81 L459.62 961.40 L459.82 961.98 L460.03 962.55 L460.23 963.12 L460.44 963.69 L460.64 964.25 L460.84 964.80 L461.05 965.35 L461.25 965.90 L461.45 966.44 L461.66 966.98 L461.86 967.51 L462.06 968.04 L462.27 968.56 L462.47 969.08 L462.67 969.59 L462.88 970.10 L463.08 970.60 L463.28 971.10 L463.49 971.60 L463.69 972.09 L463.89 972.58 L464.10 973.06 L464.30 973.54 L464.51 974.01 L464.71 974.48 L464.91 974.95 L465.12 975.41 L465.32 975.86 L465.52 976.32 L465.73 976.77 L465.93 977.21 L466.13 977.65 L466.34 978.09 L466.54 978.52 L466.74 978.95 L466.95 979.38 L467.15 979.80 L467.35 980.22 L467.56 980.63 L467.76 981.04 L467.96 981.45 L468.17 981.86 L468.37 982.26 L468.58 982.65 L468.78 983.04 L468.98 983.43 L469.19 983.82 L469.39 984.20 L469.59 984.58 L469.80 984.96 L470.00 985.33 L470.20 985.70 L470.41 986.06 L470.61 986.42 L470.81 986.78 L471.02 987.14 L471.22 987.49 L471.42 987.84 L471.63 988.19 L471.83 988.53 L472.03 988.87 L472.24 989.21 L472.44 989.54 L472.65 989.87 L472.85 990.20 L473.05 990.53 L473.26 990.85 L473.46 991.17 L473.66 991.49 L473.87 991.80 L474.07 992.11 L474.27 992.42 L474.48 992.73 L474.68 993.03 L474.88 993.33 L475.09 993.63 L475.29 993.92 L475.49 994.21 L475.70 994.50 L475.90 994.79 L476.11 995.07 L476.31 995.35 L476.51 995.63 L476.72 995.91 L476.92 996.19 L477.12 996.46 L477.33 996.73 L477.53 996.99 L477.73 997.26 L477.94 997.52 L478.14 997.78 L478.34 998.04 L478.55 998.29 L478.75 998.55 L478.95 998.80 L479.16 999.05 L479.36 999.29 L479.56 999.54 L479.77 999.78 L479.97 1000.02 L480.18 1000.26 L480.38 1000.49 L480.58 1000.73 L480.79 1000.96 L480.99 1001.19 L481.19 1001.41 L481.40 1001.64 L481.60 1001.86 L481.80 1002.08 L482.01 1002.30 L482.21 1002.52 L482.41 1002.74 L482.62 1002.95 L482.82 1003.16 L483.02 1003.37 L483.23 1003.58 L483.43 1003.79 L483.63 1003.99 L483.84 1004.19 L484.04 1004.39 L484.25 1004.59 L484.45 1004.79 L484.65 1004.98 L484.86 1005.18 L485.06 1005.37 L485.26 1005.56 L485.47 1005.74 L485.67 1005.93 L485.87 1006.12 L486.08 1006.30 L486.28 1006.48 L486.48 1006.66 L486.69 1006.84 L486.89 1007.01 L487.09 1007.19 L487.30 1007.36 L487.50 1007.53 L487.70 1007.70 L487.91 1007.87 L488.11 1008.04 L488.31 1008.20 L488.52 1008.37 L488.72 1008.53 L488.93 1008.69 L489.13 1008.85 L489.33 1009.01 L489.54 1009.16 L489.74 1009.32 L489.94 1009.47 L490.15 1009.62 L490.35 1009.77 L490.55 1009.92 L490.76 1010.07 L490.96 1010.22 L491.16 1010.36 L491.37 1010.50 L491.57 1010.65 L491.77 1010.79 L491.98 1010.93 L492.18 1011.06 L492.38 1011.20 L492.59 1011.34 L492.79 1011.47 L493.00 1011.60 L493.20 1011.73 L493.40 1011.86 L493.61 1011.99 L493.81 1012.12 L494.01 1012.25 L494.22 1012.37 L494.42 1012.50 L494.62 1012.62 L494.83 1012.74 L495.03 1012.86 L495.23 1012.98 L495.44 1013.10 L495.64 1013.21 L495.84 1013.33 L496.05 1013.44 L496.25 1013.56 L496.45 1013.67 L496.66 1013.78 L496.86 1013.89 L497.07 1013.99 L497.27 1014.10 L497.47 1014.21 L497.68 1014.31 L497.88 1014.42 L498.08 1014.52 L498.29 1014.62 L498.49 1014.72 L498.69 1014.82 L498.90 1014.92 L499.10 1015.02 L499.30 1015.11 L499.51 1015.21 L499.71 1015.30 L499.91 1015.39 L500.12 1015.49 L500.32 1015.58 L500.52 1015.67 L500.73 1015.75 L500.93 1015.84 L501.14 1015.93 L501.34 1016.02 L501.54 1016.10 L501.75 1016.18 L501.95 1016.27 L502.15 1016.35 L502.36 1016.43 L502.56 1016.51 L502.76 1016.59 L502.97 1016.67 L503.17 1016.74 L503.37 1016.82 L503.58 1016.89 L503.78 1016.97 L503.98 1017.04 L504.19 1017.11 L504.39 1017.18 L504.60 1017.25 L504.80 1017.32 L505.00 1017.39 L505.21 1017.46 L505.41 1017.53 L505.61 1017.59 L505.82 1017.66 L506.02 1017.72 L506.22 1017.78 L506.43 1017.85 L506.63 1017.91 L506.83 1017.97 L507.04 1018.03 L507.24 1018.09 L507.44 1018.15 L507.65 1018.20 L507.85 1018.26 L508.05 1018.31 L508.26 1018.37 L508.46 1018.42 L508.66 1018.48 L508.87 1018.53 L509.07 1018.58 L509.28 1018.63 L509.48 1018.68 L509.68 1018.73 L509.89 1018.78 L510.09 1018.83 L510.29 1018.87 L510.50 1018.92 L510.70 1018.96" fill="none" stroke="#2b63ec" stroke-width="1.05"/>
<path clip-path="url(#c8)" d="M429.30 862.62 L429.50 863.92 L429.71 865.21 L429.91 866.49 L430.11 867.75 L430.32 869.01 L430.52 870.26 L430.72 871.49 L430.93 872.71 L431.13 873.93 L431.33 875.13 L431.54 876.33 L431.74 877.51 L431.95 878.68 L432.15 879.85 L432.35 881.00 L432.56 882.15 L432.76 883.29 L432.96 884.41 L433.17 885.53 L433.37 886.64 L433.57 887.74 L433.78 888.83 L433.98 889.92 L434.18 890.99 L434.39 892.05 L434.59 893.11 L434.79 894.16 L435.00 895.20 L435.20 896.23 L435.40 897.26 L435.61 898.27 L435.81 899.28 L436.02 900.28 L436.22 901.27 L436.42 902.25 L436.63 903.23 L436.83 904.20 L437.03 905.16 L437.24 906.12 L437.44 907.06 L437.64 908.00 L437.85 908.93 L438.05 909.86 L438.25 910.78 L438.46 911.69 L438.66 912.59 L438.86 913.49 L439.07 914.38 L439.27 915.26 L439.48 916.14 L439.68 917.01 L439.88 917.87 L440.09 918.73 L440.29 919.58 L440.49 920.42 L440.70 921.26 L440.90 922.09 L441.10 922.92 L441.31 923.74 L441.51 924.55 L441.71 925.36 L441.92 926.16 L442.12 926.96 L442.32 927.75 L442.53 928.53 L442.73 929.31 L442.93 930.08 L443.14 930.85 L443.34 931.61 L443.55 932.36 L443.75 933.11 L443.95 933.86 L444.16 934.60 L444.36 935.33 L444.56 936.06 L444.77 936.78 L444.97 937.50 L445.17 938.22 L445.38 938.92 L445.58 939.63 L445.78 940.32 L445.99 941.02 L446.19 941.71 L446.39 942.39 L446.60 943.07 L446.80 943.74 L447.00 944.41 L447.21 945.07 L447.41 945.73 L447.62 946.39 L447.82 947.04 L448.02 947.68 L448.23 948.32 L448.43 948.96 L448.63 949.59 L448.84 950.22 L449.04 950.84 L449.24 951.46 L449.45 952.08 L449.65 952.69 L449.85 953.30 L450.06 953.90 L450.26 954.50 L450.46 955.09 L450.67 955.68 L450.87 956.26 L451.07 956.85 L451.28 957.42 L451.48 958.00 L451.69 958.57 L451.89 959.13 L452.09 959.70 L452.30 960.25 L452.50 960.81 L452.70 961.36 L452.91 961.91 L453.11 962.45 L453.31 962.99 L453.52 963.53 L453.72 964.06 L453.92 964.59 L454.13 965.11 L454.33 965.63 L454.53 966.15 L454.74 966.67 L454.94 967.18 L455.14 967.69 L455.35 968.19 L455.55 968.69 L455.75 969.19 L455.96 969.68 L456.16 970.17 L456.37 970.66 L456.57 971.15 L456.77 971.63 L456.98 972.11 L457.18 972.58 L457.38 973.05 L457.59 973.52 L457.79 973.99 L457.99 974.45 L458.20 974.91 L458.40 975.36 L458.60 975.82 L458.81 976.27 L459.01 976.71 L459.21 977.16 L459.42 977.60 L459.62 978.04 L459.82 978.47 L460.03 978.91 L460.23 979.34 L460.44 979.76 L460.64 980.19 L460.84 980.61 L461.05 981.03 L461.25 981.44 L461.45 981.85 L461.66 982.26 L461.86 982.67 L462.06 983.08 L462.27 983.48 L462.47 983.88 L462.67 984.27 L462.88 984.67 L463.08 985.06 L463.28 985.45 L463.49 985.83 L463.69 986.21 L463.89 986.59 L464.10 986.97 L464.30 987.35 L464.51 987.72 L464.71 988.09 L464.91 988.46 L465.12 988.82 L465.32 989.18 L465.52 989.54 L465.73 989.90 L465.93 990.26 L466.13 990.61 L466.34 990.96 L466.54 991.31 L466.74 991.65 L466.95 991.99 L467.15 992.33 L467.35 992.67 L467.56 993.01 L467.76 993.34 L467.96 993.67 L468.17 994.00 L468.37 994.33 L468.58 994.65 L468.78 994.97 L468.98 995.29 L469.19 995.60 L469.39 995.92 L469.59 996.23 L469.80 996.54 L470.00 996.85 L470.20 997.15 L470.41 997.45 L470.61 997.75 L470.81 998.05 L471.02 998.35 L471.22 998.64 L471.42 998.93 L471.63 999.22 L471.83 999.50 L472.03 999.79 L472.24 1000.07 L472.44 1000.35 L472.65 1000.63 L472.85 1000.90 L473.05 1001.17 L473.26 1001.45 L473.46 1001.71 L473.66 1001.98 L473.87 1002.24 L474.07 1002.51 L474.27 1002.77 L474.48 1003.02 L474.68 1003.28 L474.88 1003.53 L475.09 1003.78 L475.29 1004.03 L475.49 1004.28 L475.70 1004.52 L475.90 1004.76 L476.11 1005.00 L476.31 1005.24 L476.51 1005.48 L476.72 1005.71 L476.92 1005.94 L477.12 1006.17 L477.33 1006.40 L477.53 1006.62 L477.73 1006.85 L477.94 1007.07 L478.14 1007.29 L478.34 1007.50 L478.55 1007.72 L478.75 1007.93 L478.95 1008.14 L479.16 1008.35 L479.36 1008.56 L479.56 1008.76 L479.77 1008.96 L479.97 1009.16 L480.18 1009.36 L480.38 1009.56 L480.58 1009.75 L480.79 1009.95 L480.99 1010.14 L481.19 1010.32 L481.40 1010.51 L481.60 1010.70 L481.80 1010.88 L482.01 1011.06 L482.21 1011.24 L482.41 1011.41 L482.62 1011.59 L482.82 1011.76 L483.02 1011.93 L483.23 1012.10 L483.43 1012.27 L483.63 1012.43 L483.84 1012.59 L484.04 1012.76 L484.25 1012.91 L484.45 1013.07 L484.65 1013.23 L484.86 1013.38 L485.06 1013.53 L485.26 1013.68 L485.47 1013.83 L485.67 1013.98 L485.87 1014.12 L486.08 1014.26 L486.28 1014.40 L486.48 1014.54 L486.69 1014.68 L486.89 1014.81 L487.09 1014.95 L487.30 1015.08 L487.50 1015.21 L487.70 1015.34 L487.91 1015.46 L488.11 1015.59 L488.31 1015.71 L488.52 1015.83 L488.72 1015.95 L488.93 1016.07 L489.13 1016.18 L489.33 1016.30 L489.54 1016.41 L489.74 1016.52 L489.94 1016.63 L490.15 1016.74 L490.35 1016.84 L490.55 1016.94 L490.76 1017.05 L490.96 1017.15 L491.16 1017.25 L491.37 1017.34 L491.57 1017.44 L491.77 1017.53 L491.98 1017.62 L492.18 1017.71 L492.38 1017.80 L492.59 1017.89 L492.79 1017.98 L493.00 1018.06 L493.20 1018.14 L493.40 1018.22 L493.61 1018.30 L493.81 1018.38 L494.01 1018.46 L494.22 1018.53 L494.42 1018.60 L494.62 1018.67 L494.83 1018.74 L495.03 1018.81 L495.23 1018.88 L495.44 1018.94 L495.64 1019.01 L495.84 1019.07 L496.05 1019.13 L496.25 1019.19 L496.45 1019.25 L496.66 1019.30 L496.86 1019.36 L497.07 1019.41 L497.27 1019.46 L497.47 1019.51 L497.68 1019.56 L497.88 1019.61 L498.08 1019.65 L498.29 1019.70 L498.49 1019.74 L498.69 1019.78 L498.90 1019.82 L499.10 1019.86 L499.30 1019.90 L499.51 1019.94 L499.71 1019.97 L499.91 1020.00 L500.12 1020.04 L500.32 1020.07 L500.52 1020.09 L500.73 1020.12 L500.93 1020.15" fill="none" stroke="#2b63ec" stroke-width="1.05"/>
<path clip-path="url(#c8)" d="M429.30 826.42 L429.50 828.08 L429.71 829.74 L429.91 831.38 L430.11 833.00 L430.32 834.61 L430.52 836.21 L430.72 837.79 L430.93 839.36 L431.13 840.91 L431.33 842.46 L431.54 843.98 L431.74 845.50 L431.95 847.00 L432.15 848.49 L432.35 849.97 L432.56 851.43 L432.76 852.88 L432.96 854.32 L433.17 855.75 L433.37 857.16 L433.57 858.56 L433.78 859.95 L433.98 861.33 L434.18 862.70 L434.39 864.05 L434.59 865.40 L434.79 866.73 L435.00 868.05 L435.20 869.36 L435.40 870.66 L435.61 871.95 L435.81 873.23 L436.02 874.50 L436.22 875.76 L436.42 877.00 L436.63 878.24 L436.83 879.47 L437.03 880.68 L437.24 881.89 L437.44 883.09 L437.64 884.27 L437.85 885.45 L438.05 886.62 L438.25 887.77 L438.46 888.92 L438.66 890.06 L438.86 891.19 L439.07 892.31 L439.27 893.42 L439.48 894.53 L439.68 895.62 L439.88 896.71 L440.09 897.78 L440.29 898.85 L440.49 899.91 L440.70 900.96 L440.90 902.00 L441.10 903.04 L441.31 904.06 L441.51 905.08 L441.71 906.09 L441.92 907.09 L442.12 908.08 L442.32 909.07 L442.53 910.05 L442.73 911.02 L442.93 911.98 L443.14 912.93 L443.34 913.88 L443.55 914.82 L443.75 915.75 L443.95 916.68 L444.16 917.60 L444.36 918.51 L444.56 919.41 L444.77 920.31 L444.97 921.20 L445.17 922.08 L445.38 922.95 L445.58 923.82 L445.78 924.68 L445.99 925.54 L446.19 926.39 L446.39 927.23 L446.60 928.07 L446.80 928.89 L447.00 929.72 L447.21 930.53 L447.41 931.34 L447.62 932.15 L447.82 932.94 L448.02 933.73 L448.23 934.52 L448.43 935.30 L448.63 936.07 L448.84 936.84 L449.04 937.60 L449.24 938.35 L449.45 939.10 L449.65 939.85 L449.85 940.58 L450.06 941.32 L450.26 942.04 L450.46 942.76 L450.67 943.48 L450.87 944.19 L451.07 944.89 L451.28 945.59 L451.48 946.28 L451.69 946.97 L451.89 947.66 L452.09 948.33 L452.30 949.01 L452.50 949.67 L452.70 950.34 L452.91 950.99 L453.11 951.64 L453.31 952.29 L453.52 952.93 L453.72 953.57 L453.92 954.20 L454.13 954.83 L454.33 955.45 L454.53 956.07 L454.74 956.68 L454.94 957.29 L455.14 957.89 L455.35 958.49 L455.55 959.09 L455.75 959.68 L455.96 960.26 L456.16 960.84 L456.37 961.42 L456.57 961.99 L456.77 962.56 L456.98 963.12 L457.18 963.68 L457.38 964.24 L457.59 964.79 L457.79 965.33 L457.99 965.87 L458.20 966.41 L458.40 966.95 L458.60 967.48 L458.81 968.00 L459.01 968.52 L459.21 969.04 L459.42 969.55 L459.62 970.06 L459.82 970.57 L460.03 971.07 L460.23 971.57 L460.44 972.06 L460.64 972.55 L460.84 973.04 L461.05 973.52 L461.25 974.00 L461.45 974.47 L461.66 974.94 L461.86 975.41 L462.06 975.87 L462.27 976.33 L462.47 976.79 L462.67 977.24 L462.88 977.69 L463.08 978.14 L463.28 978.58 L463.49 979.02 L463.69 979.46 L463.89 979.89 L464.10 980.32 L464.30 980.74 L464.51 981.16 L464.71 981.58 L464.91 982.00 L465.12 982.41 L465.32 982.82 L465.52 983.23 L465.73 983.63 L465.93 984.03 L466.13 984.42 L466.34 984.82 L466.54 985.21 L466.74 985.59 L466.95 985.98 L467.15 986.36 L467.35 986.73 L467.56 987.11 L467.76 987.48 L467.96 987.85 L468.17 988.21 L468.37 988.58 L468.58 988.94 L468.78 989.29 L468.98 989.65 L469.19 990.00 L469.39 990.35 L469.59 990.69 L469.80 991.03 L470.00 991.37 L470.20 991.71 L470.41 992.04 L470.61 992.37 L470.81 992.70 L471.02 993.03 L471.22 993.35 L471.42 993.67 L471.63 993.99 L471.83 994.31 L472.03 994.62 L472.24 994.93 L472.44 995.24 L472.65 995.54 L472.85 995.84 L473.05 996.14 L473.26 996.44 L473.46 996.74 L473.66 997.03 L473.87 997.32 L474.07 997.60 L474.27 997.89 L474.48 998.17 L474.68 998.45 L474.88 998.73 L475.09 999.00 L475.29 999.28 L475.49 999.55 L475.70 999.82 L475.90 1000.08 L476.11 1000.35 L476.31 1000.61 L476.51 1000.87 L476.72 1001.12 L476.92 1001.38 L477.12 1001.63 L477.33 1001.88 L477.53 1002.13 L477.73 1002.37 L477.94 1002.61 L478.14 1002.86 L478.34 1003.09 L478.55 1003.33 L478.75 1003.57 L478.95 1003.80 L479.16 1004.03 L479.36 1004.26 L479.56 1004.48 L479.77 1004.71 L479.97 1004.93 L480.18 1005.15 L480.38 1005.37 L480.58 1005.58 L480.79 1005.80 L480.99 1006.01 L481.19 1006.22 L481.40 1006.43 L481.60 1006.63 L481.80 1006.84 L482.01 1007.04 L482.21 1007.24 L482.41 1007.44 L482.62 1007.63 L482.82 1007.83 L483.02 1008.02 L483.23 1008.21 L483.43 1008.40 L483.63 1008.59 L483.84 1008.77 L484.04 1008.96 L484.25 1009.14 L484.45 1009.32 L484.65 1009.49 L484.86 1009.67 L485.06 1009.84 L485.26 1010.02 L485.47 1010.19 L485.67 1010.36 L485.87 1010.52 L486.08 1010.69 L486.28 1010.85 L486.48 1011.01 L486.69 1011.17 L486.89 1011.33 L487.09 1011.49 L487.30 1011.65 L487.50 1011.80 L487.70 1011.95 L487.91 1012.10 L488.11 1012.25 L488.31 1012.40 L488.52 1012.54 L488.72 1012.69 L488.93 1012.83 L489.13 1012.97 L489.33 1013.11 L489.54 1013.24 L489.74 1013.38 L489.94 1013.51 L490.15 1013.65 L490.35 1013.78 L490.55 1013.91 L490.76 1014.04 L490.96 1014.16 L491.16 1014.29 L491.37 1014.41 L491.57 1014.53 L491.77 1014.65 L491.98 1014.77 L492.18 1014.89 L492.38 1015.01 L492.59 1015.12 L492.79 1015.24 L493.00 1015.35 L493.20 1015.46 L493.40 1015.57 L493.61 1015.67 L493.81 1015.78 L494.01 1015.88 L494.22 1015.99 L494.42 1016.09 L494.62 1016.19 L494.83 1016.29 L495.03 1016.39 L495.23 1016.48 L495.44 1016.58 L495.64 1016.67 L495.84 1016.77 L496.05 1016.86 L496.25 1016.95 L496.45 1017.03 L496.66 1017.12 L496.86 1017.21 L497.07 1017.29 L497.27 1017.38 L497.47 1017.46 L497.68 1017.54 L497.88 1017.62 L498.08 1017.70 L498.29 1017.77 L498.49 1017.85 L498.69 1017.92 L498.90 1018.00 L499.10 1018.07 L499.30 1018.14 L499.51 1018.21 L499.71 1018.28 L499.91 1018.35 L500.12 1018.41 L500.32 1018.48 L500.52 1018.54 L500.73 1018.60 L500.93 1018.66 L501.14 1018.72 L501.34 1018.78 L501.54 1018.84 L501.75 1018.90 L501.95 1018.95 L502.15 1019.01 L502.36 1019.06 L502.56 1019.11 L502.76 1019.16 L502.97 1019.21 L503.17 1019.26 L503.37 1019.31 L503.58 1019.36 L503.78 1019.40 L503.98 1019.45 L504.19 1019.49 L504.39 1019.53 L504.60 1019.57 L504.80 1019.61 L505.00 1019.65 L505.21 1019.69 L505.41 1019.73 L505.61 1019.76 L505.82 1019.80 L506.02 1019.83 L506.22 1019.86 L506.43 1019.90 L506.63 1019.93 L506.83 1019.96 L507.04 1019.98 L507.24 1020.01 L507.44 1020.04 L507.65 1020.06 L507.85 1020.09 L508.05 1020.11 L508.26 1020.14 L508.46 1020.16 L508.66 1020.18 L508.87 1020.20 L509.07 1020.22 L509.28 1020.23 L509.48 1020.25 L509.68 1020.27 L509.89 1020.28 L510.09 1020.30 L510.29 1020.31 L510.50 1020.32 L510.70 1020.33" fill="none" stroke="#141414" stroke-width="1.25" stroke-linejoin="round"/>
<line x1="411" y1="993.5" x2="529" y2="993.5" stroke="#e8102a" stroke-width="1.1" stroke-dasharray="2.2 2"/>
<line x1="471.5" y1="919" x2="471.5" y2="1025" stroke="#e8102a" stroke-width="1.1" stroke-dasharray="2.2 2"/>
<line x1="414.5" y1="1029" x2="414.5" y2="1035" stroke="#a0a0a0" stroke-width="1"/>
<text transform="translate(418.9,1036.6) rotate(-90)" text-anchor="end" font-size="12.4" fill="#000000">20</text>
<line x1="444.5" y1="1029" x2="444.5" y2="1035" stroke="#a0a0a0" stroke-width="1"/>
<text transform="translate(448.9,1036.6) rotate(-90)" text-anchor="end" font-size="12.4" fill="#000000">40</text>
<line x1="473.5" y1="1029" x2="473.5" y2="1035" stroke="#a0a0a0" stroke-width="1"/>
<text transform="translate(477.9,1036.6) rotate(-90)" text-anchor="end" font-size="12.4" fill="#000000">60</text>
<line x1="503.5" y1="1029" x2="503.5" y2="1035" stroke="#a0a0a0" stroke-width="1"/>
<text transform="translate(507.9,1036.6) rotate(-90)" text-anchor="end" font-size="12.4" fill="#000000">80</text>
<line x1="429.5" y1="1029" x2="429.5" y2="1032" stroke="#a0a0a0" stroke-width="1"/>
<line x1="458.5" y1="1029" x2="458.5" y2="1032" stroke="#a0a0a0" stroke-width="1"/>
<line x1="488.5" y1="1029" x2="488.5" y2="1032" stroke="#a0a0a0" stroke-width="1"/>
<line x1="518.5" y1="1029" x2="518.5" y2="1032" stroke="#a0a0a0" stroke-width="1"/>
<text x="438.9" y="1066.6" font-size="12.4" fill="#ee2a46" textLength="58.89" lengthAdjust="spacing">58.522583</text>
<text x="444.8" y="1087.0" font-size="12.4" fill="#000000" textLength="49.09" lengthAdjust="spacing">Strength</text>
</svg>
</body></html>
